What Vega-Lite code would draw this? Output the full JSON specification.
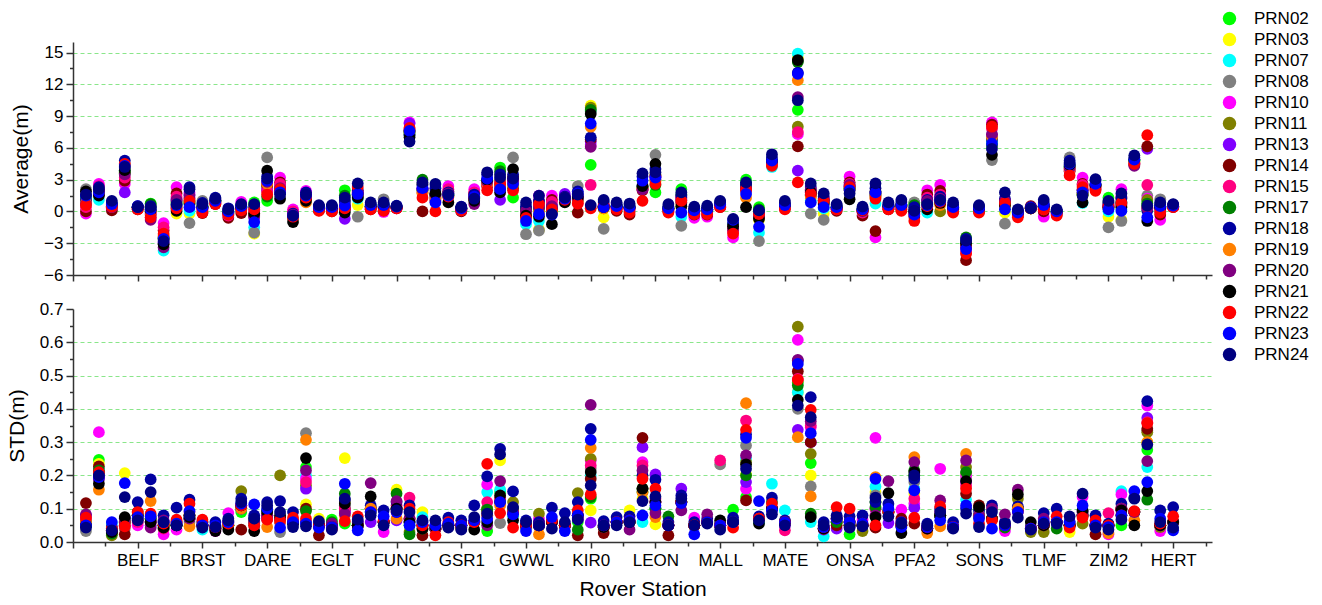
{
"$schema":"https://vega.github.io/schema/vega-lite/v6.json",
"background":"white",
"padding":{"left":6,"top":10,"right":10,"bottom":5},
"config":{
"view":{"stroke":null},
"font":"Liberation Sans",
"axis":{"domainColor":"#333333","domainWidth":1.5,"tickColor":"#333333","tickWidth":1.5,"labelColor":"#000000","labelFontSize":17,"titleFontSize":21,"titleFontWeight":"normal","titleColor":"#000000","labelOverlap":false,"labelFlush":false,"gridColor":"#8ae68a","gridDash":[4,3],"gridWidth":1}
},
"data":{"values":[
{"s":1,"p":"PRN02","a":1.2,"d":0.06},{"s":1,"p":"PRN03","a":1.0,"d":0.05},{"s":1,"p":"PRN07","a":1.3,"d":0.05},{"s":1,"p":"PRN08","a":2.1,"d":0.033},{"s":1,"p":"PRN10","a":-0.2,"d":0.065},{"s":1,"p":"PRN11","a":1.1,"d":0.05},{"s":1,"p":"PRN13","a":0.9,"d":0.08},{"s":1,"p":"PRN14","a":0.0,"d":0.117},{"s":1,"p":"PRN15","a":0.4,"d":0.07},{"s":1,"p":"PRN17","a":1.4,"d":0.06},{"s":1,"p":"PRN18","a":1.0,"d":0.055},{"s":1,"p":"PRN19","a":0.8,"d":0.06},{"s":1,"p":"PRN20","a":0.7,"d":0.083},{"s":1,"p":"PRN21","a":1.9,"d":0.05},{"s":1,"p":"PRN22","a":0.6,"d":0.073},{"s":1,"p":"PRN23","a":1.5,"d":0.05},{"s":1,"p":"PRN24","a":1.6,"d":0.043},
{"s":2,"p":"PRN02","a":2.0,"d":0.247},{"s":2,"p":"PRN03","a":1.8,"d":0.235},{"s":2,"p":"PRN07","a":1.1,"d":0.22},{"s":2,"p":"PRN08","a":1.9,"d":0.2},{"s":2,"p":"PRN10","a":2.6,"d":0.33},{"s":2,"p":"PRN11","a":1.7,"d":0.21},{"s":2,"p":"PRN13","a":2.2,"d":0.19},{"s":2,"p":"PRN14","a":1.6,"d":0.227},{"s":2,"p":"PRN15","a":2.4,"d":0.2},{"s":2,"p":"PRN17","a":1.8,"d":0.215},{"s":2,"p":"PRN18","a":2.3,"d":0.205},{"s":2,"p":"PRN19","a":1.7,"d":0.157},{"s":2,"p":"PRN20","a":2.0,"d":0.19},{"s":2,"p":"PRN21","a":1.5,"d":0.175},{"s":2,"p":"PRN22","a":1.9,"d":0.21},{"s":2,"p":"PRN23","a":1.8,"d":0.195},{"s":2,"p":"PRN24","a":2.1,"d":0.2},
{"s":3,"p":"PRN02","a":0.6,"d":0.03},{"s":3,"p":"PRN03","a":0.5,"d":0.035},{"s":3,"p":"PRN07","a":0.7,"d":0.055},{"s":3,"p":"PRN08","a":0.6,"d":0.04},{"s":3,"p":"PRN10","a":0.3,"d":0.03},{"s":3,"p":"PRN11","a":0.5,"d":0.02},{"s":3,"p":"PRN13","a":0.6,"d":0.04},{"s":3,"p":"PRN14","a":0.1,"d":0.03},{"s":3,"p":"PRN15","a":0.4,"d":0.035},{"s":3,"p":"PRN17","a":0.7,"d":0.025},{"s":3,"p":"PRN18","a":0.8,"d":0.045},{"s":3,"p":"PRN19","a":0.5,"d":0.04},{"s":3,"p":"PRN20","a":0.4,"d":0.035},{"s":3,"p":"PRN21","a":0.6,"d":0.03},{"s":3,"p":"PRN22","a":0.45,"d":0.04},{"s":3,"p":"PRN23","a":0.7,"d":0.06},{"s":3,"p":"PRN24","a":1.0,"d":0.035},
{"s":4,"p":"PRN02","a":3.8,"d":0.06},{"s":4,"p":"PRN03","a":4.0,"d":0.207},{"s":4,"p":"PRN07","a":3.9,"d":0.05},{"s":4,"p":"PRN08","a":4.1,"d":0.04},{"s":4,"p":"PRN10","a":2.6,"d":0.05},{"s":4,"p":"PRN11","a":3.7,"d":0.06},{"s":4,"p":"PRN13","a":1.8,"d":0.07},{"s":4,"p":"PRN14","a":2.9,"d":0.023},{"s":4,"p":"PRN15","a":3.2,"d":0.05},{"s":4,"p":"PRN17","a":3.6,"d":0.06},{"s":4,"p":"PRN18","a":4.8,"d":0.07},{"s":4,"p":"PRN19","a":4.4,"d":0.06},{"s":4,"p":"PRN20","a":3.5,"d":0.06},{"s":4,"p":"PRN21","a":3.9,"d":0.075},{"s":4,"p":"PRN22","a":4.5,"d":0.047},{"s":4,"p":"PRN23","a":4.3,"d":0.177},{"s":4,"p":"PRN24","a":4.2,"d":0.135},
{"s":5,"p":"PRN02","a":0.4,"d":0.07},{"s":5,"p":"PRN03","a":0.3,"d":0.08},{"s":5,"p":"PRN07","a":0.5,"d":0.07},{"s":5,"p":"PRN08","a":0.4,"d":0.06},{"s":5,"p":"PRN10","a":0.3,"d":0.05},{"s":5,"p":"PRN11","a":0.4,"d":0.07},{"s":5,"p":"PRN13","a":0.5,"d":0.08},{"s":5,"p":"PRN14","a":0.2,"d":0.09},{"s":5,"p":"PRN15","a":0.3,"d":0.06},{"s":5,"p":"PRN17","a":0.4,"d":0.08},{"s":5,"p":"PRN18","a":0.5,"d":0.12},{"s":5,"p":"PRN19","a":0.3,"d":0.08},{"s":5,"p":"PRN20","a":0.4,"d":0.07},{"s":5,"p":"PRN21","a":0.4,"d":0.08},{"s":5,"p":"PRN22","a":0.2,"d":0.09},{"s":5,"p":"PRN23","a":0.4,"d":0.075},{"s":5,"p":"PRN24","a":0.4,"d":0.065},
{"s":6,"p":"PRN02","a":0.75,"d":0.07},{"s":6,"p":"PRN03","a":0.5,"d":0.08},{"s":6,"p":"PRN07","a":0.3,"d":0.07},{"s":6,"p":"PRN08","a":0.4,"d":0.06},{"s":6,"p":"PRN10","a":-0.2,"d":0.06},{"s":6,"p":"PRN11","a":0.2,"d":0.07},{"s":6,"p":"PRN13","a":-0.6,"d":0.05},{"s":6,"p":"PRN14","a":-0.3,"d":0.06},{"s":6,"p":"PRN15","a":-0.1,"d":0.07},{"s":6,"p":"PRN17","a":0.7,"d":0.07},{"s":6,"p":"PRN18","a":0.5,"d":0.188},{"s":6,"p":"PRN19","a":0.0,"d":0.123},{"s":6,"p":"PRN20","a":-0.8,"d":0.043},{"s":6,"p":"PRN21","a":0.1,"d":0.06},{"s":6,"p":"PRN22","a":-0.55,"d":0.085},{"s":6,"p":"PRN23","a":0.2,"d":0.077},{"s":6,"p":"PRN24","a":0.4,"d":0.15},
{"s":7,"p":"PRN02","a":-2.5,"d":0.04},{"s":7,"p":"PRN03","a":-2.6,"d":0.05},{"s":7,"p":"PRN07","a":-3.7,"d":0.045},{"s":7,"p":"PRN08","a":-3.0,"d":0.05},{"s":7,"p":"PRN10","a":-1.1,"d":0.023},{"s":7,"p":"PRN11","a":-2.4,"d":0.05},{"s":7,"p":"PRN13","a":-2.9,"d":0.06},{"s":7,"p":"PRN14","a":-1.8,"d":0.05},{"s":7,"p":"PRN15","a":-1.5,"d":0.04},{"s":7,"p":"PRN17","a":-2.6,"d":0.05},{"s":7,"p":"PRN18","a":-2.5,"d":0.08},{"s":7,"p":"PRN19","a":-2.3,"d":0.05},{"s":7,"p":"PRN20","a":-3.4,"d":0.065},{"s":7,"p":"PRN21","a":-3.1,"d":0.043},{"s":7,"p":"PRN22","a":-2.1,"d":0.055},{"s":7,"p":"PRN23","a":-2.6,"d":0.06},{"s":7,"p":"PRN24","a":-2.8,"d":0.06},
{"s":8,"p":"PRN02","a":0.8,"d":0.05},{"s":8,"p":"PRN03","a":-0.2,"d":0.05},{"s":8,"p":"PRN07","a":0.2,"d":0.05},{"s":8,"p":"PRN08","a":0.4,"d":0.06},{"s":8,"p":"PRN10","a":2.3,"d":0.037},{"s":8,"p":"PRN11","a":0.9,"d":0.06},{"s":8,"p":"PRN13","a":1.2,"d":0.06},{"s":8,"p":"PRN14","a":1.7,"d":0.05},{"s":8,"p":"PRN15","a":1.4,"d":0.06},{"s":8,"p":"PRN17","a":0.6,"d":0.05},{"s":8,"p":"PRN18","a":1.0,"d":0.103},{"s":8,"p":"PRN19","a":0.5,"d":0.06},{"s":8,"p":"PRN20","a":1.1,"d":0.055},{"s":8,"p":"PRN21","a":0.05,"d":0.05},{"s":8,"p":"PRN22","a":0.3,"d":0.067},{"s":8,"p":"PRN23","a":0.6,"d":0.055},{"s":8,"p":"PRN24","a":0.7,"d":0.05},
{"s":9,"p":"PRN02","a":0.8,"d":0.07},{"s":9,"p":"PRN03","a":-0.2,"d":0.08},{"s":9,"p":"PRN07","a":0.05,"d":0.07},{"s":9,"p":"PRN08","a":-1.1,"d":0.06},{"s":9,"p":"PRN10","a":1.8,"d":0.07},{"s":9,"p":"PRN11","a":1.0,"d":0.08},{"s":9,"p":"PRN13","a":1.6,"d":0.07},{"s":9,"p":"PRN14","a":1.2,"d":0.08},{"s":9,"p":"PRN15","a":1.3,"d":0.09},{"s":9,"p":"PRN17","a":0.9,"d":0.07},{"s":9,"p":"PRN18","a":2.3,"d":0.127},{"s":9,"p":"PRN19","a":0.9,"d":0.047},{"s":9,"p":"PRN20","a":1.5,"d":0.07},{"s":9,"p":"PRN21","a":0.7,"d":0.075},{"s":9,"p":"PRN22","a":1.0,"d":0.115},{"s":9,"p":"PRN23","a":0.4,"d":0.093},{"s":9,"p":"PRN24","a":2.1,"d":0.08},
{"s":10,"p":"PRN02","a":0.5,"d":0.05},{"s":10,"p":"PRN03","a":0.4,"d":0.05},{"s":10,"p":"PRN07","a":0.3,"d":0.037},{"s":10,"p":"PRN08","a":1.0,"d":0.05},{"s":10,"p":"PRN10","a":0.2,"d":0.05},{"s":10,"p":"PRN11","a":0.5,"d":0.05},{"s":10,"p":"PRN13","a":0.4,"d":0.05},{"s":10,"p":"PRN14","a":-0.15,"d":0.06},{"s":10,"p":"PRN15","a":0.1,"d":0.05},{"s":10,"p":"PRN17","a":0.5,"d":0.05},{"s":10,"p":"PRN18","a":0.8,"d":0.06},{"s":10,"p":"PRN19","a":0.3,"d":0.05},{"s":10,"p":"PRN20","a":0.3,"d":0.05},{"s":10,"p":"PRN21","a":0.4,"d":0.05},{"s":10,"p":"PRN22","a":-0.1,"d":0.067},{"s":10,"p":"PRN23","a":0.4,"d":0.05},{"s":10,"p":"PRN24","a":0.7,"d":0.043},
{"s":11,"p":"PRN02","a":1.0,"d":0.04},{"s":11,"p":"PRN03","a":0.9,"d":0.04},{"s":11,"p":"PRN07","a":1.0,"d":0.045},{"s":11,"p":"PRN08","a":1.1,"d":0.04},{"s":11,"p":"PRN10","a":0.8,"d":0.033},{"s":11,"p":"PRN11","a":1.0,"d":0.04},{"s":11,"p":"PRN13","a":1.1,"d":0.045},{"s":11,"p":"PRN14","a":0.7,"d":0.04},{"s":11,"p":"PRN15","a":0.8,"d":0.04},{"s":11,"p":"PRN17","a":1.0,"d":0.04},{"s":11,"p":"PRN18","a":1.3,"d":0.06},{"s":11,"p":"PRN19","a":0.9,"d":0.04},{"s":11,"p":"PRN20","a":0.9,"d":0.04},{"s":11,"p":"PRN21","a":1.0,"d":0.033},{"s":11,"p":"PRN22","a":0.7,"d":0.045},{"s":11,"p":"PRN23","a":1.0,"d":0.05},{"s":11,"p":"PRN24","a":1.2,"d":0.045},
{"s":12,"p":"PRN02","a":0.0,"d":0.05},{"s":12,"p":"PRN03","a":-0.1,"d":0.05},{"s":12,"p":"PRN07","a":0.0,"d":0.06},{"s":12,"p":"PRN08","a":0.1,"d":0.05},{"s":12,"p":"PRN10","a":-0.3,"d":0.087},{"s":12,"p":"PRN11","a":-0.1,"d":0.05},{"s":12,"p":"PRN13","a":0.0,"d":0.06},{"s":12,"p":"PRN14","a":-0.6,"d":0.05},{"s":12,"p":"PRN15","a":-0.4,"d":0.06},{"s":12,"p":"PRN17","a":0.0,"d":0.05},{"s":12,"p":"PRN18","a":0.3,"d":0.07},{"s":12,"p":"PRN19","a":-0.2,"d":0.05},{"s":12,"p":"PRN20","a":-0.2,"d":0.06},{"s":12,"p":"PRN21","a":-0.1,"d":0.037},{"s":12,"p":"PRN22","a":-0.3,"d":0.055},{"s":12,"p":"PRN23","a":0.0,"d":0.06},{"s":12,"p":"PRN24","a":0.2,"d":0.065},
{"s":13,"p":"PRN02","a":0.5,"d":0.09},{"s":13,"p":"PRN03","a":0.4,"d":0.1},{"s":13,"p":"PRN07","a":0.5,"d":0.1},{"s":13,"p":"PRN08","a":0.6,"d":0.1},{"s":13,"p":"PRN10","a":0.9,"d":0.1},{"s":13,"p":"PRN11","a":0.4,"d":0.153},{"s":13,"p":"PRN13","a":0.5,"d":0.1},{"s":13,"p":"PRN14","a":-0.15,"d":0.037},{"s":13,"p":"PRN15","a":0.2,"d":0.11},{"s":13,"p":"PRN17","a":0.4,"d":0.1},{"s":13,"p":"PRN18","a":0.6,"d":0.13},{"s":13,"p":"PRN19","a":0.3,"d":0.1},{"s":13,"p":"PRN20","a":0.3,"d":0.11},{"s":13,"p":"PRN21","a":0.4,"d":0.11},{"s":13,"p":"PRN22","a":0.1,"d":0.11},{"s":13,"p":"PRN23","a":0.5,"d":0.115},{"s":13,"p":"PRN24","a":0.7,"d":0.12},
{"s":14,"p":"PRN02","a":0.85,"d":0.06},{"s":14,"p":"PRN03","a":-2.1,"d":0.06},{"s":14,"p":"PRN07","a":-1.5,"d":0.07},{"s":14,"p":"PRN08","a":-2.0,"d":0.06},{"s":14,"p":"PRN10","a":0.0,"d":0.06},{"s":14,"p":"PRN11","a":-0.5,"d":0.06},{"s":14,"p":"PRN13","a":-0.6,"d":0.07},{"s":14,"p":"PRN14","a":-0.3,"d":0.05},{"s":14,"p":"PRN15","a":0.1,"d":0.06},{"s":14,"p":"PRN17","a":0.6,"d":0.07},{"s":14,"p":"PRN18","a":0.4,"d":0.08},{"s":14,"p":"PRN19","a":-0.2,"d":0.06},{"s":14,"p":"PRN20","a":-0.4,"d":0.06},{"s":14,"p":"PRN21","a":-0.2,"d":0.033},{"s":14,"p":"PRN22","a":0.2,"d":0.05},{"s":14,"p":"PRN23","a":-1.0,"d":0.113},{"s":14,"p":"PRN24","a":0.7,"d":0.07},
{"s":15,"p":"PRN02","a":1.0,"d":0.07},{"s":15,"p":"PRN03","a":1.8,"d":0.08},{"s":15,"p":"PRN07","a":2.2,"d":0.08},{"s":15,"p":"PRN08","a":5.1,"d":0.07},{"s":15,"p":"PRN10","a":2.2,"d":0.07},{"s":15,"p":"PRN11","a":2.4,"d":0.08},{"s":15,"p":"PRN13","a":2.0,"d":0.07},{"s":15,"p":"PRN14","a":2.5,"d":0.08},{"s":15,"p":"PRN15","a":1.9,"d":0.08},{"s":15,"p":"PRN17","a":1.4,"d":0.095},{"s":15,"p":"PRN18","a":3.3,"d":0.12},{"s":15,"p":"PRN19","a":2.6,"d":0.045},{"s":15,"p":"PRN20","a":2.8,"d":0.08},{"s":15,"p":"PRN21","a":3.85,"d":0.09},{"s":15,"p":"PRN22","a":1.6,"d":0.067},{"s":15,"p":"PRN23","a":2.9,"d":0.1},{"s":15,"p":"PRN24","a":3.1,"d":0.11},
{"s":16,"p":"PRN02","a":2.0,"d":0.07},{"s":16,"p":"PRN03","a":2.2,"d":0.07},{"s":16,"p":"PRN07","a":2.0,"d":0.06},{"s":16,"p":"PRN08","a":2.3,"d":0.03},{"s":16,"p":"PRN10","a":3.2,"d":0.07},{"s":16,"p":"PRN11","a":2.1,"d":0.2},{"s":16,"p":"PRN13","a":2.4,"d":0.06},{"s":16,"p":"PRN14","a":2.75,"d":0.07},{"s":16,"p":"PRN15","a":2.6,"d":0.06},{"s":16,"p":"PRN17","a":1.9,"d":0.07},{"s":16,"p":"PRN18","a":2.0,"d":0.123},{"s":16,"p":"PRN19","a":1.8,"d":0.06},{"s":16,"p":"PRN20","a":2.2,"d":0.07},{"s":16,"p":"PRN21","a":1.2,"d":0.08},{"s":16,"p":"PRN22","a":2.1,"d":0.065},{"s":16,"p":"PRN23","a":1.8,"d":0.043},{"s":16,"p":"PRN24","a":1.6,"d":0.09},
{"s":17,"p":"PRN02","a":-0.3,"d":0.06},{"s":17,"p":"PRN03","a":-0.4,"d":0.06},{"s":17,"p":"PRN07","a":-0.3,"d":0.06},{"s":17,"p":"PRN08","a":-0.2,"d":0.06},{"s":17,"p":"PRN10","a":0.2,"d":0.06},{"s":17,"p":"PRN11","a":-0.4,"d":0.06},{"s":17,"p":"PRN13","a":-0.3,"d":0.06},{"s":17,"p":"PRN14","a":-0.6,"d":0.06},{"s":17,"p":"PRN15","a":0.0,"d":0.065},{"s":17,"p":"PRN17","a":-0.5,"d":0.06},{"s":17,"p":"PRN18","a":-0.2,"d":0.09},{"s":17,"p":"PRN19","a":-0.6,"d":0.06},{"s":17,"p":"PRN20","a":-0.3,"d":0.06},{"s":17,"p":"PRN21","a":-1.0,"d":0.055},{"s":17,"p":"PRN22","a":-0.5,"d":0.073},{"s":17,"p":"PRN23","a":-0.4,"d":0.06},{"s":17,"p":"PRN24","a":-0.4,"d":0.045},
{"s":18,"p":"PRN02","a":1.4,"d":0.225},{"s":18,"p":"PRN03","a":1.3,"d":0.113},{"s":18,"p":"PRN07","a":1.5,"d":0.2},{"s":18,"p":"PRN08","a":1.5,"d":0.327},{"s":18,"p":"PRN10","a":1.95,"d":0.19},{"s":18,"p":"PRN11","a":1.3,"d":0.17},{"s":18,"p":"PRN13","a":1.6,"d":0.16},{"s":18,"p":"PRN14","a":1.2,"d":0.1},{"s":18,"p":"PRN15","a":1.7,"d":0.18},{"s":18,"p":"PRN17","a":1.3,"d":0.093},{"s":18,"p":"PRN18","a":1.8,"d":0.06},{"s":18,"p":"PRN19","a":0.85,"d":0.307},{"s":18,"p":"PRN20","a":1.4,"d":0.215},{"s":18,"p":"PRN21","a":1.0,"d":0.252},{"s":18,"p":"PRN22","a":1.3,"d":0.07},{"s":18,"p":"PRN23","a":1.5,"d":0.055},{"s":18,"p":"PRN24","a":1.6,"d":0.047},
{"s":19,"p":"PRN02","a":0.4,"d":0.05},{"s":19,"p":"PRN03","a":0.3,"d":0.07},{"s":19,"p":"PRN07","a":0.4,"d":0.05},{"s":19,"p":"PRN08","a":0.5,"d":0.05},{"s":19,"p":"PRN10","a":0.2,"d":0.05},{"s":19,"p":"PRN11","a":0.4,"d":0.05},{"s":19,"p":"PRN13","a":0.3,"d":0.05},{"s":19,"p":"PRN14","a":0.1,"d":0.02},{"s":19,"p":"PRN15","a":0.2,"d":0.05},{"s":19,"p":"PRN17","a":0.4,"d":0.05},{"s":19,"p":"PRN18","a":0.5,"d":0.055},{"s":19,"p":"PRN19","a":0.3,"d":0.05},{"s":19,"p":"PRN20","a":0.3,"d":0.05},{"s":19,"p":"PRN21","a":0.4,"d":0.05},{"s":19,"p":"PRN22","a":0.05,"d":0.05},{"s":19,"p":"PRN23","a":0.4,"d":0.043},{"s":19,"p":"PRN24","a":0.6,"d":0.063},
{"s":20,"p":"PRN02","a":0.3,"d":0.067},{"s":20,"p":"PRN03","a":0.3,"d":0.05},{"s":20,"p":"PRN07","a":0.4,"d":0.05},{"s":20,"p":"PRN08","a":0.4,"d":0.05},{"s":20,"p":"PRN10","a":0.1,"d":0.04},{"s":20,"p":"PRN11","a":0.3,"d":0.05},{"s":20,"p":"PRN13","a":0.3,"d":0.05},{"s":20,"p":"PRN14","a":0.0,"d":0.04},{"s":20,"p":"PRN15","a":0.2,"d":0.045},{"s":20,"p":"PRN17","a":0.4,"d":0.06},{"s":20,"p":"PRN18","a":0.5,"d":0.05},{"s":20,"p":"PRN19","a":0.3,"d":0.04},{"s":20,"p":"PRN20","a":0.2,"d":0.055},{"s":20,"p":"PRN21","a":0.3,"d":0.045},{"s":20,"p":"PRN22","a":0.0,"d":0.045},{"s":20,"p":"PRN23","a":0.4,"d":0.045},{"s":20,"p":"PRN24","a":0.6,"d":0.037},
{"s":21,"p":"PRN02","a":2.0,"d":0.055},{"s":21,"p":"PRN03","a":1.0,"d":0.252},{"s":21,"p":"PRN07","a":0.8,"d":0.1},{"s":21,"p":"PRN08","a":0.9,"d":0.11},{"s":21,"p":"PRN10","a":0.3,"d":0.09},{"s":21,"p":"PRN11","a":0.6,"d":0.12},{"s":21,"p":"PRN13","a":-0.7,"d":0.09},{"s":21,"p":"PRN14","a":0.2,"d":0.1},{"s":21,"p":"PRN15","a":0.6,"d":0.1},{"s":21,"p":"PRN17","a":1.5,"d":0.145},{"s":21,"p":"PRN18","a":1.0,"d":0.127},{"s":21,"p":"PRN19","a":0.5,"d":0.08},{"s":21,"p":"PRN20","a":0.4,"d":0.085},{"s":21,"p":"PRN21","a":-0.1,"d":0.115},{"s":21,"p":"PRN22","a":0.3,"d":0.063},{"s":21,"p":"PRN23","a":0.55,"d":0.175},{"s":21,"p":"PRN24","a":1.3,"d":0.13},
{"s":22,"p":"PRN02","a":1.5,"d":0.05},{"s":22,"p":"PRN03","a":0.6,"d":0.05},{"s":22,"p":"PRN07","a":1.2,"d":0.05},{"s":22,"p":"PRN08","a":-0.5,"d":0.05},{"s":22,"p":"PRN10","a":1.6,"d":0.05},{"s":22,"p":"PRN11","a":1.4,"d":0.05},{"s":22,"p":"PRN13","a":1.6,"d":0.05},{"s":22,"p":"PRN14","a":1.8,"d":0.05},{"s":22,"p":"PRN15","a":1.9,"d":0.06},{"s":22,"p":"PRN17","a":1.6,"d":0.05},{"s":22,"p":"PRN18","a":2.0,"d":0.06},{"s":22,"p":"PRN19","a":1.5,"d":0.05},{"s":22,"p":"PRN20","a":1.7,"d":0.05},{"s":22,"p":"PRN21","a":1.3,"d":0.05},{"s":22,"p":"PRN22","a":2.3,"d":0.077},{"s":22,"p":"PRN23","a":1.65,"d":0.035},{"s":22,"p":"PRN24","a":2.65,"d":0.067},
{"s":23,"p":"PRN02","a":0.5,"d":0.09},{"s":23,"p":"PRN03","a":0.4,"d":0.1},{"s":23,"p":"PRN07","a":0.5,"d":0.09},{"s":23,"p":"PRN08","a":0.6,"d":0.1},{"s":23,"p":"PRN10","a":0.3,"d":0.1},{"s":23,"p":"PRN11","a":0.5,"d":0.1},{"s":23,"p":"PRN13","a":0.5,"d":0.06},{"s":23,"p":"PRN14","a":0.2,"d":0.1},{"s":23,"p":"PRN15","a":0.3,"d":0.1},{"s":23,"p":"PRN17","a":0.5,"d":0.1},{"s":23,"p":"PRN18","a":0.7,"d":0.11},{"s":23,"p":"PRN19","a":0.4,"d":0.1},{"s":23,"p":"PRN20","a":0.4,"d":0.177},{"s":23,"p":"PRN21","a":0.5,"d":0.137},{"s":23,"p":"PRN22","a":0.2,"d":0.09},{"s":23,"p":"PRN23","a":0.6,"d":0.09},{"s":23,"p":"PRN24","a":0.85,"d":0.08},
{"s":24,"p":"PRN02","a":0.6,"d":0.06},{"s":24,"p":"PRN03","a":0.5,"d":0.06},{"s":24,"p":"PRN07","a":0.6,"d":0.06},{"s":24,"p":"PRN08","a":1.15,"d":0.06},{"s":24,"p":"PRN10","a":-0.05,"d":0.03},{"s":24,"p":"PRN11","a":0.5,"d":0.06},{"s":24,"p":"PRN13","a":0.5,"d":0.06},{"s":24,"p":"PRN14","a":0.1,"d":0.06},{"s":24,"p":"PRN15","a":0.3,"d":0.06},{"s":24,"p":"PRN17","a":0.6,"d":0.06},{"s":24,"p":"PRN18","a":0.7,"d":0.095},{"s":24,"p":"PRN19","a":0.4,"d":0.06},{"s":24,"p":"PRN20","a":0.4,"d":0.06},{"s":24,"p":"PRN21","a":0.5,"d":0.06},{"s":24,"p":"PRN22","a":0.05,"d":0.065},{"s":24,"p":"PRN23","a":0.6,"d":0.077},{"s":24,"p":"PRN24","a":0.85,"d":0.05},
{"s":25,"p":"PRN02","a":0.4,"d":0.1},{"s":25,"p":"PRN03","a":0.4,"d":0.157},{"s":25,"p":"PRN07","a":0.45,"d":0.1},{"s":25,"p":"PRN08","a":0.5,"d":0.1},{"s":25,"p":"PRN10","a":0.3,"d":0.1},{"s":25,"p":"PRN11","a":0.4,"d":0.1},{"s":25,"p":"PRN13","a":0.45,"d":0.065},{"s":25,"p":"PRN14","a":0.3,"d":0.1},{"s":25,"p":"PRN15","a":0.35,"d":0.11},{"s":25,"p":"PRN17","a":0.4,"d":0.145},{"s":25,"p":"PRN18","a":0.55,"d":0.12},{"s":25,"p":"PRN19","a":0.4,"d":0.07},{"s":25,"p":"PRN20","a":0.4,"d":0.123},{"s":25,"p":"PRN21","a":0.4,"d":0.1},{"s":25,"p":"PRN22","a":0.3,"d":0.09},{"s":25,"p":"PRN23","a":0.45,"d":0.09},{"s":25,"p":"PRN24","a":0.5,"d":0.095},
{"s":26,"p":"PRN02","a":7.6,"d":0.05},{"s":26,"p":"PRN03","a":7.5,"d":0.06},{"s":26,"p":"PRN07","a":7.5,"d":0.06},{"s":26,"p":"PRN08","a":7.4,"d":0.06},{"s":26,"p":"PRN10","a":8.4,"d":0.07},{"s":26,"p":"PRN11","a":7.5,"d":0.03},{"s":26,"p":"PRN13","a":8.3,"d":0.06},{"s":26,"p":"PRN14","a":7.6,"d":0.07},{"s":26,"p":"PRN15","a":7.8,"d":0.133},{"s":26,"p":"PRN17","a":7.3,"d":0.023},{"s":26,"p":"PRN18","a":7.2,"d":0.11},{"s":26,"p":"PRN19","a":7.6,"d":0.07},{"s":26,"p":"PRN20","a":7.7,"d":0.07},{"s":26,"p":"PRN21","a":7.0,"d":0.06},{"s":26,"p":"PRN22","a":7.9,"d":0.1},{"s":26,"p":"PRN23","a":7.6,"d":0.05},{"s":26,"p":"PRN24","a":6.6,"d":0.09},
{"s":27,"p":"PRN02","a":2.0,"d":0.05},{"s":27,"p":"PRN03","a":1.8,"d":0.09},{"s":27,"p":"PRN07","a":2.0,"d":0.075},{"s":27,"p":"PRN08","a":2.2,"d":0.05},{"s":27,"p":"PRN10","a":2.1,"d":0.05},{"s":27,"p":"PRN11","a":2.0,"d":0.05},{"s":27,"p":"PRN13","a":2.2,"d":0.05},{"s":27,"p":"PRN14","a":0.0,"d":0.02},{"s":27,"p":"PRN15","a":1.8,"d":0.05},{"s":27,"p":"PRN17","a":3.0,"d":0.04},{"s":27,"p":"PRN18","a":2.5,"d":0.06},{"s":27,"p":"PRN19","a":1.7,"d":0.05},{"s":27,"p":"PRN20","a":2.1,"d":0.05},{"s":27,"p":"PRN21","a":2.6,"d":0.04},{"s":27,"p":"PRN22","a":1.3,"d":0.05},{"s":27,"p":"PRN23","a":2.2,"d":0.06},{"s":27,"p":"PRN24","a":2.75,"d":0.065},
{"s":28,"p":"PRN02","a":1.4,"d":0.04},{"s":28,"p":"PRN03","a":1.2,"d":0.04},{"s":28,"p":"PRN07","a":1.3,"d":0.04},{"s":28,"p":"PRN08","a":1.95,"d":0.04},{"s":28,"p":"PRN10","a":1.5,"d":0.04},{"s":28,"p":"PRN11","a":1.6,"d":0.04},{"s":28,"p":"PRN13","a":1.5,"d":0.04},{"s":28,"p":"PRN14","a":1.0,"d":0.04},{"s":28,"p":"PRN15","a":1.2,"d":0.04},{"s":28,"p":"PRN17","a":1.6,"d":0.04},{"s":28,"p":"PRN18","a":2.2,"d":0.05},{"s":28,"p":"PRN19","a":1.3,"d":0.04},{"s":28,"p":"PRN20","a":1.6,"d":0.04},{"s":28,"p":"PRN21","a":1.7,"d":0.045},{"s":28,"p":"PRN22","a":0.0,"d":0.02},{"s":28,"p":"PRN23","a":0.85,"d":0.05},{"s":28,"p":"PRN24","a":2.6,"d":0.065},
{"s":29,"p":"PRN02","a":1.6,"d":0.05},{"s":29,"p":"PRN03","a":1.5,"d":0.05},{"s":29,"p":"PRN07","a":1.6,"d":0.05},{"s":29,"p":"PRN08","a":1.7,"d":0.05},{"s":29,"p":"PRN10","a":2.4,"d":0.055},{"s":29,"p":"PRN11","a":1.5,"d":0.05},{"s":29,"p":"PRN13","a":1.7,"d":0.05},{"s":29,"p":"PRN14","a":1.9,"d":0.05},{"s":29,"p":"PRN15","a":2.1,"d":0.05},{"s":29,"p":"PRN17","a":1.5,"d":0.05},{"s":29,"p":"PRN18","a":1.8,"d":0.073},{"s":29,"p":"PRN19","a":1.4,"d":0.05},{"s":29,"p":"PRN20","a":1.7,"d":0.05},{"s":29,"p":"PRN21","a":0.85,"d":0.05},{"s":29,"p":"PRN22","a":1.4,"d":0.06},{"s":29,"p":"PRN23","a":1.5,"d":0.055},{"s":29,"p":"PRN24","a":1.6,"d":0.043},
{"s":30,"p":"PRN02","a":0.3,"d":0.045},{"s":30,"p":"PRN03","a":0.2,"d":0.045},{"s":30,"p":"PRN07","a":0.3,"d":0.045},{"s":30,"p":"PRN08","a":0.3,"d":0.05},{"s":30,"p":"PRN10","a":0.2,"d":0.045},{"s":30,"p":"PRN11","a":0.2,"d":0.05},{"s":30,"p":"PRN13","a":0.3,"d":0.05},{"s":30,"p":"PRN14","a":0.0,"d":0.04},{"s":30,"p":"PRN15","a":0.1,"d":0.05},{"s":30,"p":"PRN17","a":0.3,"d":0.045},{"s":30,"p":"PRN18","a":0.45,"d":0.065},{"s":30,"p":"PRN19","a":0.2,"d":0.045},{"s":30,"p":"PRN20","a":0.2,"d":0.05},{"s":30,"p":"PRN21","a":0.3,"d":0.05},{"s":30,"p":"PRN22","a":0.1,"d":0.05},{"s":30,"p":"PRN23","a":0.3,"d":0.05},{"s":30,"p":"PRN24","a":0.4,"d":0.037},
{"s":31,"p":"PRN02","a":1.3,"d":0.06},{"s":31,"p":"PRN03","a":1.2,"d":0.06},{"s":31,"p":"PRN07","a":1.3,"d":0.06},{"s":31,"p":"PRN08","a":1.4,"d":0.06},{"s":31,"p":"PRN10","a":2.1,"d":0.06},{"s":31,"p":"PRN11","a":1.3,"d":0.06},{"s":31,"p":"PRN13","a":1.4,"d":0.06},{"s":31,"p":"PRN14","a":1.7,"d":0.06},{"s":31,"p":"PRN15","a":1.8,"d":0.06},{"s":31,"p":"PRN17","a":1.2,"d":0.06},{"s":31,"p":"PRN18","a":1.6,"d":0.11},{"s":31,"p":"PRN19","a":1.1,"d":0.06},{"s":31,"p":"PRN20","a":0.7,"d":0.06},{"s":31,"p":"PRN21","a":1.0,"d":0.037},{"s":31,"p":"PRN22","a":1.3,"d":0.06},{"s":31,"p":"PRN23","a":1.4,"d":0.065},{"s":31,"p":"PRN24","a":1.2,"d":0.075},
{"s":32,"p":"PRN02","a":2.8,"d":0.033},{"s":32,"p":"PRN03","a":2.7,"d":0.1},{"s":32,"p":"PRN07","a":2.9,"d":0.15},{"s":32,"p":"PRN08","a":3.0,"d":0.1},{"s":32,"p":"PRN10","a":2.5,"d":0.173},{"s":32,"p":"PRN11","a":2.8,"d":0.1},{"s":32,"p":"PRN13","a":2.9,"d":0.08},{"s":32,"p":"PRN14","a":2.4,"d":0.09},{"s":32,"p":"PRN15","a":2.5,"d":0.12},{"s":32,"p":"PRN17","a":2.8,"d":0.097},{"s":32,"p":"PRN18","a":3.5,"d":0.197},{"s":32,"p":"PRN19","a":2.6,"d":0.08},{"s":32,"p":"PRN20","a":2.8,"d":0.05},{"s":32,"p":"PRN21","a":3.0,"d":0.06},{"s":32,"p":"PRN22","a":2.0,"d":0.235},{"s":32,"p":"PRN23","a":3.1,"d":0.07},{"s":32,"p":"PRN24","a":3.7,"d":0.085},
{"s":33,"p":"PRN02","a":4.15,"d":0.15},{"s":33,"p":"PRN03","a":3.5,"d":0.245},{"s":33,"p":"PRN07","a":2.6,"d":0.157},{"s":33,"p":"PRN08","a":3.0,"d":0.057},{"s":33,"p":"PRN10","a":2.8,"d":0.12},{"s":33,"p":"PRN11","a":2.9,"d":0.13},{"s":33,"p":"PRN13","a":1.1,"d":0.123},{"s":33,"p":"PRN14","a":2.5,"d":0.12},{"s":33,"p":"PRN15","a":2.7,"d":0.13},{"s":33,"p":"PRN17","a":3.8,"d":0.12},{"s":33,"p":"PRN18","a":3.5,"d":0.28},{"s":33,"p":"PRN19","a":2.4,"d":0.11},{"s":33,"p":"PRN20","a":2.2,"d":0.183},{"s":33,"p":"PRN21","a":1.8,"d":0.14},{"s":33,"p":"PRN22","a":2.6,"d":0.087},{"s":33,"p":"PRN23","a":2.1,"d":0.12},{"s":33,"p":"PRN24","a":3.2,"d":0.263},
{"s":34,"p":"PRN02","a":1.3,"d":0.08},{"s":34,"p":"PRN03","a":2.4,"d":0.09},{"s":34,"p":"PRN07","a":2.8,"d":0.08},{"s":34,"p":"PRN08","a":5.1,"d":0.09},{"s":34,"p":"PRN10","a":3.0,"d":0.09},{"s":34,"p":"PRN11","a":3.3,"d":0.12},{"s":34,"p":"PRN13","a":2.9,"d":0.09},{"s":34,"p":"PRN14","a":3.2,"d":0.09},{"s":34,"p":"PRN15","a":2.8,"d":0.09},{"s":34,"p":"PRN17","a":2.2,"d":0.1},{"s":34,"p":"PRN18","a":3.5,"d":0.152},{"s":34,"p":"PRN19","a":2.5,"d":0.09},{"s":34,"p":"PRN20","a":3.0,"d":0.09},{"s":34,"p":"PRN21","a":4.0,"d":0.065},{"s":34,"p":"PRN22","a":2.0,"d":0.043},{"s":34,"p":"PRN23","a":2.6,"d":0.083},{"s":34,"p":"PRN24","a":3.1,"d":0.105},
{"s":35,"p":"PRN02","a":0.3,"d":0.045},{"s":35,"p":"PRN03","a":-0.5,"d":0.045},{"s":35,"p":"PRN07","a":-1.2,"d":0.045},{"s":35,"p":"PRN08","a":-2.15,"d":0.05},{"s":35,"p":"PRN10","a":0.0,"d":0.05},{"s":35,"p":"PRN11","a":-0.2,"d":0.05},{"s":35,"p":"PRN13","a":-0.3,"d":0.05},{"s":35,"p":"PRN14","a":0.2,"d":0.05},{"s":35,"p":"PRN15","a":0.1,"d":0.05},{"s":35,"p":"PRN17","a":0.2,"d":0.045},{"s":35,"p":"PRN18","a":0.5,"d":0.065},{"s":35,"p":"PRN19","a":-0.3,"d":0.045},{"s":35,"p":"PRN20","a":0.05,"d":0.05},{"s":35,"p":"PRN21","a":-0.4,"d":0.05},{"s":35,"p":"PRN22","a":-0.6,"d":0.05},{"s":35,"p":"PRN23","a":-0.9,"d":0.033},{"s":35,"p":"PRN24","a":0.85,"d":0.06},
{"s":36,"p":"PRN02","a":0.5,"d":0.05},{"s":36,"p":"PRN03","a":-1.7,"d":0.05},{"s":36,"p":"PRN07","a":-0.9,"d":0.05},{"s":36,"p":"PRN08","a":-1.8,"d":0.05},{"s":36,"p":"PRN10","a":1.5,"d":0.07},{"s":36,"p":"PRN11","a":0.3,"d":0.085},{"s":36,"p":"PRN13","a":0.6,"d":0.05},{"s":36,"p":"PRN14","a":0.9,"d":0.05},{"s":36,"p":"PRN15","a":1.0,"d":0.06},{"s":36,"p":"PRN17","a":0.2,"d":0.05},{"s":36,"p":"PRN18","a":1.0,"d":0.06},{"s":36,"p":"PRN19","a":0.0,"d":0.023},{"s":36,"p":"PRN20","a":0.4,"d":0.05},{"s":36,"p":"PRN21","a":-0.5,"d":0.05},{"s":36,"p":"PRN22","a":0.7,"d":0.05},{"s":36,"p":"PRN23","a":-0.25,"d":0.05},{"s":36,"p":"PRN24","a":1.5,"d":0.05},
{"s":37,"p":"PRN02","a":0.5,"d":0.06},{"s":37,"p":"PRN03","a":0.3,"d":0.06},{"s":37,"p":"PRN07","a":0.2,"d":0.06},{"s":37,"p":"PRN08","a":0.4,"d":0.06},{"s":37,"p":"PRN10","a":1.5,"d":0.06},{"s":37,"p":"PRN11","a":0.4,"d":0.06},{"s":37,"p":"PRN13","a":0.6,"d":0.06},{"s":37,"p":"PRN14","a":1.1,"d":0.06},{"s":37,"p":"PRN15","a":0.9,"d":0.06},{"s":37,"p":"PRN17","a":0.0,"d":0.06},{"s":37,"p":"PRN18","a":0.3,"d":0.103},{"s":37,"p":"PRN19","a":0.0,"d":0.06},{"s":37,"p":"PRN20","a":0.5,"d":0.06},{"s":37,"p":"PRN21","a":-1.2,"d":0.06},{"s":37,"p":"PRN22","a":0.2,"d":0.065},{"s":37,"p":"PRN23","a":-0.3,"d":0.075},{"s":37,"p":"PRN24","a":-0.25,"d":0.04},
{"s":38,"p":"PRN02","a":1.2,"d":0.05},{"s":38,"p":"PRN03","a":1.1,"d":0.05},{"s":38,"p":"PRN07","a":1.2,"d":0.05},{"s":38,"p":"PRN08","a":1.3,"d":0.05},{"s":38,"p":"PRN10","a":1.3,"d":0.05},{"s":38,"p":"PRN11","a":1.2,"d":0.05},{"s":38,"p":"PRN13","a":1.65,"d":0.05},{"s":38,"p":"PRN14","a":1.2,"d":0.05},{"s":38,"p":"PRN15","a":1.3,"d":0.05},{"s":38,"p":"PRN17","a":1.1,"d":0.05},{"s":38,"p":"PRN18","a":1.4,"d":0.087},{"s":38,"p":"PRN19","a":1.1,"d":0.05},{"s":38,"p":"PRN20","a":1.3,"d":0.05},{"s":38,"p":"PRN21","a":0.85,"d":0.05},{"s":38,"p":"PRN22","a":1.1,"d":0.05},{"s":38,"p":"PRN23","a":1.2,"d":0.033},{"s":38,"p":"PRN24","a":1.3,"d":0.06},
{"s":39,"p":"PRN02","a":1.2,"d":0.06},{"s":39,"p":"PRN03","a":1.1,"d":0.07},{"s":39,"p":"PRN07","a":1.3,"d":0.07},{"s":39,"p":"PRN08","a":2.4,"d":0.07},{"s":39,"p":"PRN10","a":1.4,"d":0.07},{"s":39,"p":"PRN11","a":1.2,"d":0.147},{"s":39,"p":"PRN13","a":1.3,"d":0.07},{"s":39,"p":"PRN14","a":-0.1,"d":0.02},{"s":39,"p":"PRN15","a":0.8,"d":0.08},{"s":39,"p":"PRN17","a":1.1,"d":0.037},{"s":39,"p":"PRN18","a":1.9,"d":0.12},{"s":39,"p":"PRN19","a":1.0,"d":0.08},{"s":39,"p":"PRN20","a":1.2,"d":0.08},{"s":39,"p":"PRN21","a":1.4,"d":0.08},{"s":39,"p":"PRN22","a":0.75,"d":0.095},{"s":39,"p":"PRN23","a":1.7,"d":0.08},{"s":39,"p":"PRN24","a":1.6,"d":0.067},
{"s":40,"p":"PRN02","a":4.4,"d":0.13},{"s":40,"p":"PRN03","a":10.0,"d":0.095},{"s":40,"p":"PRN07","a":9.5,"d":0.2},{"s":40,"p":"PRN08","a":9.4,"d":0.22},{"s":40,"p":"PRN10","a":6.3,"d":0.245},{"s":40,"p":"PRN11","a":9.8,"d":0.25},{"s":40,"p":"PRN13","a":6.6,"d":0.058},{"s":40,"p":"PRN14","a":6.8,"d":0.19},{"s":40,"p":"PRN15","a":2.5,"d":0.23},{"s":40,"p":"PRN17","a":9.6,"d":0.135},{"s":40,"p":"PRN18","a":7.0,"d":0.34},{"s":40,"p":"PRN19","a":8.0,"d":0.283},{"s":40,"p":"PRN20","a":6.1,"d":0.412},{"s":40,"p":"PRN21","a":9.2,"d":0.21},{"s":40,"p":"PRN22","a":0.3,"d":0.143},{"s":40,"p":"PRN23","a":8.3,"d":0.307},{"s":40,"p":"PRN24","a":0.6,"d":0.17},
{"s":41,"p":"PRN02","a":0.5,"d":0.045},{"s":41,"p":"PRN03","a":-0.55,"d":0.045},{"s":41,"p":"PRN07","a":0.35,"d":0.045},{"s":41,"p":"PRN08","a":-1.65,"d":0.045},{"s":41,"p":"PRN10","a":0.6,"d":0.045},{"s":41,"p":"PRN11","a":0.3,"d":0.045},{"s":41,"p":"PRN13","a":0.5,"d":0.045},{"s":41,"p":"PRN14","a":0.4,"d":0.027},{"s":41,"p":"PRN15","a":0.6,"d":0.045},{"s":41,"p":"PRN17","a":0.5,"d":0.045},{"s":41,"p":"PRN18","a":0.9,"d":0.063},{"s":41,"p":"PRN19","a":0.3,"d":0.045},{"s":41,"p":"PRN20","a":0.5,"d":0.045},{"s":41,"p":"PRN21","a":0.4,"d":0.045},{"s":41,"p":"PRN22","a":0.5,"d":0.05},{"s":41,"p":"PRN23","a":0.4,"d":0.05},{"s":41,"p":"PRN24","a":1.1,"d":0.05},
{"s":42,"p":"PRN02","a":0.5,"d":0.06},{"s":42,"p":"PRN03","a":0.4,"d":0.06},{"s":42,"p":"PRN07","a":0.5,"d":0.06},{"s":42,"p":"PRN08","a":0.5,"d":0.06},{"s":42,"p":"PRN10","a":0.3,"d":0.06},{"s":42,"p":"PRN11","a":0.4,"d":0.06},{"s":42,"p":"PRN13","a":0.5,"d":0.06},{"s":42,"p":"PRN14","a":0.05,"d":0.06},{"s":42,"p":"PRN15","a":0.3,"d":0.06},{"s":42,"p":"PRN17","a":0.5,"d":0.06},{"s":42,"p":"PRN18","a":0.7,"d":0.075},{"s":42,"p":"PRN19","a":0.4,"d":0.06},{"s":42,"p":"PRN20","a":0.4,"d":0.06},{"s":42,"p":"PRN21","a":0.5,"d":0.06},{"s":42,"p":"PRN22","a":0.2,"d":0.06},{"s":42,"p":"PRN23","a":0.5,"d":0.06},{"s":42,"p":"PRN24","a":0.85,"d":0.05},
{"s":43,"p":"PRN02","a":0.4,"d":0.06},{"s":43,"p":"PRN03","a":0.3,"d":0.095},{"s":43,"p":"PRN07","a":0.4,"d":0.06},{"s":43,"p":"PRN08","a":0.4,"d":0.06},{"s":43,"p":"PRN10","a":0.2,"d":0.06},{"s":43,"p":"PRN11","a":0.3,"d":0.06},{"s":43,"p":"PRN13","a":0.4,"d":0.06},{"s":43,"p":"PRN14","a":-0.3,"d":0.06},{"s":43,"p":"PRN15","a":0.1,"d":0.06},{"s":43,"p":"PRN17","a":0.4,"d":0.06},{"s":43,"p":"PRN18","a":0.6,"d":0.077},{"s":43,"p":"PRN19","a":0.3,"d":0.06},{"s":43,"p":"PRN20","a":0.3,"d":0.037},{"s":43,"p":"PRN21","a":0.4,"d":0.06},{"s":43,"p":"PRN22","a":-0.1,"d":0.065},{"s":43,"p":"PRN23","a":0.4,"d":0.065},{"s":43,"p":"PRN24","a":0.75,"d":0.06},
{"s":44,"p":"PRN02","a":2.3,"d":0.15},{"s":44,"p":"PRN03","a":2.2,"d":0.13},{"s":44,"p":"PRN07","a":2.4,"d":0.06},{"s":44,"p":"PRN08","a":2.5,"d":0.15},{"s":44,"p":"PRN10","a":2.2,"d":0.24},{"s":44,"p":"PRN11","a":2.3,"d":0.16},{"s":44,"p":"PRN13","a":2.4,"d":0.285},{"s":44,"p":"PRN14","a":2.0,"d":0.313},{"s":44,"p":"PRN15","a":2.1,"d":0.23},{"s":44,"p":"PRN17","a":2.3,"d":0.16},{"s":44,"p":"PRN18","a":3.3,"d":0.2},{"s":44,"p":"PRN19","a":2.2,"d":0.15},{"s":44,"p":"PRN20","a":2.1,"d":0.215},{"s":44,"p":"PRN21","a":2.4,"d":0.16},{"s":44,"p":"PRN22","a":1.0,"d":0.19},{"s":44,"p":"PRN23","a":2.9,"d":0.08},{"s":44,"p":"PRN24","a":3.6,"d":0.123},
{"s":45,"p":"PRN02","a":1.8,"d":0.1},{"s":45,"p":"PRN03","a":2.8,"d":0.053},{"s":45,"p":"PRN07","a":3.0,"d":0.1},{"s":45,"p":"PRN08","a":5.35,"d":0.12},{"s":45,"p":"PRN10","a":3.3,"d":0.12},{"s":45,"p":"PRN11","a":3.5,"d":0.1},{"s":45,"p":"PRN13","a":3.2,"d":0.203},{"s":45,"p":"PRN14","a":3.4,"d":0.12},{"s":45,"p":"PRN15","a":3.0,"d":0.13},{"s":45,"p":"PRN17","a":2.5,"d":0.1},{"s":45,"p":"PRN18","a":4.0,"d":0.187},{"s":45,"p":"PRN19","a":2.9,"d":0.075},{"s":45,"p":"PRN20","a":3.3,"d":0.087},{"s":45,"p":"PRN21","a":4.5,"d":0.12},{"s":45,"p":"PRN22","a":2.6,"d":0.16},{"s":45,"p":"PRN23","a":3.2,"d":0.11},{"s":45,"p":"PRN24","a":3.7,"d":0.137},
{"s":46,"p":"PRN02","a":0.3,"d":0.05},{"s":46,"p":"PRN03","a":0.2,"d":0.05},{"s":46,"p":"PRN07","a":0.3,"d":0.05},{"s":46,"p":"PRN08","a":0.4,"d":0.05},{"s":46,"p":"PRN10","a":0.1,"d":0.05},{"s":46,"p":"PRN11","a":0.2,"d":0.05},{"s":46,"p":"PRN13","a":0.3,"d":0.05},{"s":46,"p":"PRN14","a":0.0,"d":0.02},{"s":46,"p":"PRN15","a":0.1,"d":0.05},{"s":46,"p":"PRN17","a":0.3,"d":0.077},{"s":46,"p":"PRN18","a":0.5,"d":0.06},{"s":46,"p":"PRN19","a":0.2,"d":0.05},{"s":46,"p":"PRN20","a":0.2,"d":0.05},{"s":46,"p":"PRN21","a":0.3,"d":0.05},{"s":46,"p":"PRN22","a":-0.1,"d":0.05},{"s":46,"p":"PRN23","a":0.3,"d":0.05},{"s":46,"p":"PRN24","a":0.7,"d":0.05},
{"s":47,"p":"PRN02","a":2.1,"d":0.12},{"s":47,"p":"PRN03","a":0.5,"d":0.12},{"s":47,"p":"PRN07","a":-0.5,"d":0.12},{"s":47,"p":"PRN08","a":-1.35,"d":0.12},{"s":47,"p":"PRN10","a":1.2,"d":0.12},{"s":47,"p":"PRN11","a":1.0,"d":0.12},{"s":47,"p":"PRN13","a":1.1,"d":0.16},{"s":47,"p":"PRN14","a":1.3,"d":0.12},{"s":47,"p":"PRN15","a":1.4,"d":0.12},{"s":47,"p":"PRN17","a":1.6,"d":0.12},{"s":47,"p":"PRN18","a":1.5,"d":0.14},{"s":47,"p":"PRN19","a":0.8,"d":0.12},{"s":47,"p":"PRN20","a":0.85,"d":0.095},{"s":47,"p":"PRN21","a":0.5,"d":0.12},{"s":47,"p":"PRN22","a":1.0,"d":0.12},{"s":47,"p":"PRN23","a":-0.1,"d":0.117},{"s":47,"p":"PRN24","a":1.8,"d":0.13},
{"s":48,"p":"PRN02","a":0.1,"d":0.05},{"s":48,"p":"PRN03","a":0.0,"d":0.05},{"s":48,"p":"PRN07","a":0.1,"d":0.05},{"s":48,"p":"PRN08","a":0.2,"d":0.05},{"s":48,"p":"PRN10","a":-0.6,"d":0.073},{"s":48,"p":"PRN11","a":0.0,"d":0.05},{"s":48,"p":"PRN13","a":0.1,"d":0.05},{"s":48,"p":"PRN14","a":-0.3,"d":0.05},{"s":48,"p":"PRN15","a":-0.2,"d":0.05},{"s":48,"p":"PRN17","a":0.1,"d":0.05},{"s":48,"p":"PRN18","a":0.3,"d":0.06},{"s":48,"p":"PRN19","a":0.0,"d":0.05},{"s":48,"p":"PRN20","a":0.0,"d":0.05},{"s":48,"p":"PRN21","a":0.1,"d":0.05},{"s":48,"p":"PRN22","a":-0.25,"d":0.05},{"s":48,"p":"PRN23","a":0.1,"d":0.023},{"s":48,"p":"PRN24","a":0.45,"d":0.05},
{"s":49,"p":"PRN02","a":0.2,"d":0.06},{"s":49,"p":"PRN03","a":0.1,"d":0.06},{"s":49,"p":"PRN07","a":0.2,"d":0.06},{"s":49,"p":"PRN08","a":0.2,"d":0.06},{"s":49,"p":"PRN10","a":-0.5,"d":0.06},{"s":49,"p":"PRN11","a":0.1,"d":0.06},{"s":49,"p":"PRN13","a":0.2,"d":0.06},{"s":49,"p":"PRN14","a":-0.3,"d":0.06},{"s":49,"p":"PRN15","a":-0.1,"d":0.06},{"s":49,"p":"PRN17","a":0.2,"d":0.06},{"s":49,"p":"PRN18","a":0.4,"d":0.07},{"s":49,"p":"PRN19","a":0.1,"d":0.06},{"s":49,"p":"PRN20","a":0.1,"d":0.083},{"s":49,"p":"PRN21","a":0.2,"d":0.06},{"s":49,"p":"PRN22","a":-0.25,"d":0.06},{"s":49,"p":"PRN23","a":0.2,"d":0.06},{"s":49,"p":"PRN24","a":0.55,"d":0.055},
{"s":50,"p":"PRN02","a":0.7,"d":0.05},{"s":50,"p":"PRN03","a":0.6,"d":0.05},{"s":50,"p":"PRN07","a":0.7,"d":0.05},{"s":50,"p":"PRN08","a":0.7,"d":0.233},{"s":50,"p":"PRN10","a":0.5,"d":0.05},{"s":50,"p":"PRN11","a":0.6,"d":0.05},{"s":50,"p":"PRN13","a":0.7,"d":0.05},{"s":50,"p":"PRN14","a":0.4,"d":0.05},{"s":50,"p":"PRN15","a":0.5,"d":0.245},{"s":50,"p":"PRN17","a":0.7,"d":0.05},{"s":50,"p":"PRN18","a":0.9,"d":0.055},{"s":50,"p":"PRN19","a":0.6,"d":0.05},{"s":50,"p":"PRN20","a":0.6,"d":0.05},{"s":50,"p":"PRN21","a":0.7,"d":0.065},{"s":50,"p":"PRN22","a":0.4,"d":0.05},{"s":50,"p":"PRN23","a":0.7,"d":0.05},{"s":50,"p":"PRN24","a":1.0,"d":0.037},
{"s":51,"p":"PRN02","a":-1.3,"d":0.097},{"s":51,"p":"PRN03","a":-1.4,"d":0.06},{"s":51,"p":"PRN07","a":-1.3,"d":0.06},{"s":51,"p":"PRN08","a":-1.2,"d":0.06},{"s":51,"p":"PRN10","a":-2.45,"d":0.06},{"s":51,"p":"PRN11","a":-1.5,"d":0.06},{"s":51,"p":"PRN13","a":-1.4,"d":0.06},{"s":51,"p":"PRN14","a":-1.8,"d":0.06},{"s":51,"p":"PRN15","a":-1.9,"d":0.06},{"s":51,"p":"PRN17","a":-1.3,"d":0.06},{"s":51,"p":"PRN18","a":-1.1,"d":0.073},{"s":51,"p":"PRN19","a":-1.5,"d":0.06},{"s":51,"p":"PRN20","a":-1.6,"d":0.06},{"s":51,"p":"PRN21","a":-1.4,"d":0.06},{"s":51,"p":"PRN22","a":-2.1,"d":0.043},{"s":51,"p":"PRN23","a":-0.8,"d":0.06},{"s":51,"p":"PRN24","a":-0.7,"d":0.06},
{"s":52,"p":"PRN02","a":3.0,"d":0.135},{"s":52,"p":"PRN03","a":2.2,"d":0.203},{"s":52,"p":"PRN07","a":2.3,"d":0.25},{"s":52,"p":"PRN08","a":2.4,"d":0.29},{"s":52,"p":"PRN10","a":2.3,"d":0.16},{"s":52,"p":"PRN11","a":2.2,"d":0.24},{"s":52,"p":"PRN13","a":2.4,"d":0.18},{"s":52,"p":"PRN14","a":2.0,"d":0.125},{"s":52,"p":"PRN15","a":2.1,"d":0.365},{"s":52,"p":"PRN17","a":2.5,"d":0.2},{"s":52,"p":"PRN18","a":2.6,"d":0.323},{"s":52,"p":"PRN19","a":1.3,"d":0.417},{"s":52,"p":"PRN20","a":2.2,"d":0.26},{"s":52,"p":"PRN21","a":0.4,"d":0.233},{"s":52,"p":"PRN22","a":2.1,"d":0.337},{"s":52,"p":"PRN23","a":1.65,"d":0.313},{"s":52,"p":"PRN24","a":2.75,"d":0.22},
{"s":53,"p":"PRN02","a":0.4,"d":0.06},{"s":53,"p":"PRN03","a":-0.8,"d":0.07},{"s":53,"p":"PRN07","a":-2.0,"d":0.06},{"s":53,"p":"PRN08","a":-2.8,"d":0.07},{"s":53,"p":"PRN10","a":-0.3,"d":0.07},{"s":53,"p":"PRN11","a":-0.5,"d":0.07},{"s":53,"p":"PRN13","a":-0.4,"d":0.07},{"s":53,"p":"PRN14","a":-0.2,"d":0.07},{"s":53,"p":"PRN15","a":-0.3,"d":0.07},{"s":53,"p":"PRN17","a":0.2,"d":0.07},{"s":53,"p":"PRN18","a":0.0,"d":0.077},{"s":53,"p":"PRN19","a":-0.6,"d":0.07},{"s":53,"p":"PRN20","a":-0.5,"d":0.07},{"s":53,"p":"PRN21","a":-0.7,"d":0.055},{"s":53,"p":"PRN22","a":-0.25,"d":0.07},{"s":53,"p":"PRN23","a":-1.45,"d":0.123},{"s":53,"p":"PRN24","a":0.1,"d":0.065},
{"s":54,"p":"PRN02","a":4.6,"d":0.1},{"s":54,"p":"PRN03","a":4.5,"d":0.1},{"s":54,"p":"PRN07","a":4.2,"d":0.175},{"s":54,"p":"PRN08","a":4.7,"d":0.1},{"s":54,"p":"PRN10","a":4.5,"d":0.1},{"s":54,"p":"PRN11","a":4.6,"d":0.1},{"s":54,"p":"PRN13","a":4.7,"d":0.1},{"s":54,"p":"PRN14","a":4.5,"d":0.1},{"s":54,"p":"PRN15","a":4.4,"d":0.1},{"s":54,"p":"PRN17","a":4.7,"d":0.12},{"s":54,"p":"PRN18","a":5.1,"d":0.133},{"s":54,"p":"PRN19","a":4.5,"d":0.1},{"s":54,"p":"PRN20","a":4.6,"d":0.1},{"s":54,"p":"PRN21","a":4.8,"d":0.1},{"s":54,"p":"PRN22","a":4.3,"d":0.115},{"s":54,"p":"PRN23","a":4.8,"d":0.095},{"s":54,"p":"PRN24","a":5.4,"d":0.083},
{"s":55,"p":"PRN02","a":0.6,"d":0.06},{"s":55,"p":"PRN03","a":0.5,"d":0.06},{"s":55,"p":"PRN07","a":0.6,"d":0.095},{"s":55,"p":"PRN08","a":0.7,"d":0.06},{"s":55,"p":"PRN10","a":0.4,"d":0.05},{"s":55,"p":"PRN11","a":0.5,"d":0.06},{"s":55,"p":"PRN13","a":0.6,"d":0.06},{"s":55,"p":"PRN14","a":0.3,"d":0.06},{"s":55,"p":"PRN15","a":0.4,"d":0.035},{"s":55,"p":"PRN17","a":0.6,"d":0.06},{"s":55,"p":"PRN18","a":0.8,"d":0.065},{"s":55,"p":"PRN19","a":0.5,"d":0.06},{"s":55,"p":"PRN20","a":0.5,"d":0.06},{"s":55,"p":"PRN21","a":0.6,"d":0.06},{"s":55,"p":"PRN22","a":0.2,"d":0.06},{"s":55,"p":"PRN23","a":0.6,"d":0.06},{"s":55,"p":"PRN24","a":1.0,"d":0.05},
{"s":56,"p":"PRN02","a":9.6,"d":0.48},{"s":56,"p":"PRN03","a":14.5,"d":0.45},{"s":56,"p":"PRN07","a":14.9,"d":0.45},{"s":56,"p":"PRN08","a":14.2,"d":0.4},{"s":56,"p":"PRN10","a":7.3,"d":0.607},{"s":56,"p":"PRN11","a":8.0,"d":0.647},{"s":56,"p":"PRN13","a":3.85,"d":0.337},{"s":56,"p":"PRN14","a":6.15,"d":0.513},{"s":56,"p":"PRN15","a":7.5,"d":0.49},{"s":56,"p":"PRN17","a":14.1,"d":0.47},{"s":56,"p":"PRN18","a":13.1,"d":0.545},{"s":56,"p":"PRN19","a":12.4,"d":0.315},{"s":56,"p":"PRN20","a":10.8,"d":0.547},{"s":56,"p":"PRN21","a":14.3,"d":0.427},{"s":56,"p":"PRN22","a":2.75,"d":0.487},{"s":56,"p":"PRN23","a":13.0,"d":0.535},{"s":56,"p":"PRN24","a":10.5,"d":0.41},
{"s":57,"p":"PRN02","a":1.5,"d":0.237},{"s":57,"p":"PRN03","a":1.2,"d":0.2},{"s":57,"p":"PRN07","a":1.0,"d":0.06},{"s":57,"p":"PRN08","a":-0.2,"d":0.167},{"s":57,"p":"PRN10","a":1.8,"d":0.345},{"s":57,"p":"PRN11","a":1.5,"d":0.265},{"s":57,"p":"PRN13","a":1.6,"d":0.3},{"s":57,"p":"PRN14","a":2.0,"d":0.3},{"s":57,"p":"PRN15","a":1.9,"d":0.35},{"s":57,"p":"PRN17","a":1.6,"d":0.085},{"s":57,"p":"PRN18","a":2.3,"d":0.435},{"s":57,"p":"PRN19","a":1.4,"d":0.137},{"s":57,"p":"PRN20","a":2.1,"d":0.363},{"s":57,"p":"PRN21","a":1.8,"d":0.075},{"s":57,"p":"PRN22","a":1.65,"d":0.397},{"s":57,"p":"PRN23","a":0.85,"d":0.327},{"s":57,"p":"PRN24","a":2.65,"d":0.375},
{"s":58,"p":"PRN02","a":1.0,"d":0.04},{"s":58,"p":"PRN03","a":-0.2,"d":0.04},{"s":58,"p":"PRN07","a":0.3,"d":0.017},{"s":58,"p":"PRN08","a":-0.8,"d":0.04},{"s":58,"p":"PRN10","a":1.2,"d":0.04},{"s":58,"p":"PRN11","a":0.9,"d":0.04},{"s":58,"p":"PRN13","a":1.0,"d":0.037},{"s":58,"p":"PRN14","a":1.1,"d":0.04},{"s":58,"p":"PRN15","a":1.2,"d":0.04},{"s":58,"p":"PRN17","a":1.0,"d":0.04},{"s":58,"p":"PRN18","a":1.4,"d":0.06},{"s":58,"p":"PRN19","a":0.8,"d":0.04},{"s":58,"p":"PRN20","a":1.0,"d":0.04},{"s":58,"p":"PRN21","a":0.7,"d":0.04},{"s":58,"p":"PRN22","a":1.0,"d":0.045},{"s":58,"p":"PRN23","a":0.4,"d":0.045},{"s":58,"p":"PRN24","a":1.7,"d":0.05},
{"s":59,"p":"PRN02","a":0.4,"d":0.06},{"s":59,"p":"PRN03","a":0.3,"d":0.06},{"s":59,"p":"PRN07","a":0.4,"d":0.06},{"s":59,"p":"PRN08","a":0.5,"d":0.06},{"s":59,"p":"PRN10","a":0.2,"d":0.06},{"s":59,"p":"PRN11","a":0.3,"d":0.06},{"s":59,"p":"PRN13","a":0.4,"d":0.04},{"s":59,"p":"PRN14","a":0.05,"d":0.05},{"s":59,"p":"PRN15","a":0.2,"d":0.07},{"s":59,"p":"PRN17","a":0.4,"d":0.06},{"s":59,"p":"PRN18","a":0.6,"d":0.08},{"s":59,"p":"PRN19","a":0.3,"d":0.07},{"s":59,"p":"PRN20","a":0.3,"d":0.07},{"s":59,"p":"PRN21","a":0.4,"d":0.07},{"s":59,"p":"PRN22","a":0.2,"d":0.105},{"s":59,"p":"PRN23","a":0.4,"d":0.07},{"s":59,"p":"PRN24","a":0.7,"d":0.075},
{"s":60,"p":"PRN02","a":2.2,"d":0.023},{"s":60,"p":"PRN03","a":2.1,"d":0.05},{"s":60,"p":"PRN07","a":2.2,"d":0.05},{"s":60,"p":"PRN08","a":2.3,"d":0.05},{"s":60,"p":"PRN10","a":3.3,"d":0.05},{"s":60,"p":"PRN11","a":2.2,"d":0.05},{"s":60,"p":"PRN13","a":2.4,"d":0.045},{"s":60,"p":"PRN14","a":2.75,"d":0.05},{"s":60,"p":"PRN15","a":2.6,"d":0.06},{"s":60,"p":"PRN17","a":2.1,"d":0.05},{"s":60,"p":"PRN18","a":2.4,"d":0.077},{"s":60,"p":"PRN19","a":2.0,"d":0.06},{"s":60,"p":"PRN20","a":2.5,"d":0.06},{"s":60,"p":"PRN21","a":1.15,"d":0.06},{"s":60,"p":"PRN22","a":2.3,"d":0.1},{"s":60,"p":"PRN23","a":2.0,"d":0.06},{"s":60,"p":"PRN24","a":1.7,"d":0.043},
{"s":61,"p":"PRN02","a":0.2,"d":0.05},{"s":61,"p":"PRN03","a":0.1,"d":0.05},{"s":61,"p":"PRN07","a":0.2,"d":0.05},{"s":61,"p":"PRN08","a":0.2,"d":0.05},{"s":61,"p":"PRN10","a":0.0,"d":0.067},{"s":61,"p":"PRN11","a":0.1,"d":0.033},{"s":61,"p":"PRN13","a":0.1,"d":0.05},{"s":61,"p":"PRN14","a":-0.4,"d":0.05},{"s":61,"p":"PRN15","a":-0.1,"d":0.05},{"s":61,"p":"PRN17","a":0.2,"d":0.05},{"s":61,"p":"PRN18","a":0.3,"d":0.08},{"s":61,"p":"PRN19","a":0.0,"d":0.05},{"s":61,"p":"PRN20","a":0.0,"d":0.05},{"s":61,"p":"PRN21","a":0.1,"d":0.05},{"s":61,"p":"PRN22","a":0.1,"d":0.055},{"s":61,"p":"PRN23","a":0.2,"d":0.055},{"s":61,"p":"PRN24","a":0.45,"d":0.047},
{"s":62,"p":"PRN02","a":1.5,"d":0.12},{"s":62,"p":"PRN03","a":1.3,"d":0.15},{"s":62,"p":"PRN07","a":0.75,"d":0.167},{"s":62,"p":"PRN08","a":1.4,"d":0.14},{"s":62,"p":"PRN10","a":-2.45,"d":0.313},{"s":62,"p":"PRN11","a":1.6,"d":0.12},{"s":62,"p":"PRN13","a":1.7,"d":0.1},{"s":62,"p":"PRN14","a":-1.85,"d":0.043},{"s":62,"p":"PRN15","a":1.5,"d":0.1},{"s":62,"p":"PRN17","a":1.7,"d":0.105},{"s":62,"p":"PRN18","a":2.2,"d":0.12},{"s":62,"p":"PRN19","a":1.4,"d":0.195},{"s":62,"p":"PRN20","a":1.8,"d":0.08},{"s":62,"p":"PRN21","a":1.9,"d":0.075},{"s":62,"p":"PRN22","a":1.2,"d":0.05},{"s":62,"p":"PRN23","a":1.8,"d":0.19},{"s":62,"p":"PRN24","a":2.65,"d":0.133},
{"s":63,"p":"PRN02","a":0.5,"d":0.09},{"s":63,"p":"PRN03","a":0.4,"d":0.09},{"s":63,"p":"PRN07","a":0.5,"d":0.09},{"s":63,"p":"PRN08","a":0.6,"d":0.09},{"s":63,"p":"PRN10","a":0.3,"d":0.09},{"s":63,"p":"PRN11","a":0.5,"d":0.09},{"s":63,"p":"PRN13","a":0.5,"d":0.057},{"s":63,"p":"PRN14","a":0.2,"d":0.09},{"s":63,"p":"PRN15","a":0.3,"d":0.09},{"s":63,"p":"PRN17","a":0.5,"d":0.09},{"s":63,"p":"PRN18","a":0.7,"d":0.115},{"s":63,"p":"PRN19","a":0.4,"d":0.09},{"s":63,"p":"PRN20","a":0.4,"d":0.183},{"s":63,"p":"PRN21","a":0.5,"d":0.147},{"s":63,"p":"PRN22","a":0.2,"d":0.09},{"s":63,"p":"PRN23","a":0.6,"d":0.1},{"s":63,"p":"PRN24","a":0.85,"d":0.077},
{"s":64,"p":"PRN02","a":0.6,"d":0.05},{"s":64,"p":"PRN03","a":0.5,"d":0.05},{"s":64,"p":"PRN07","a":0.6,"d":0.05},{"s":64,"p":"PRN08","a":0.7,"d":0.05},{"s":64,"p":"PRN10","a":0.3,"d":0.097},{"s":64,"p":"PRN11","a":0.5,"d":0.05},{"s":64,"p":"PRN13","a":0.6,"d":0.05},{"s":64,"p":"PRN14","a":0.2,"d":0.07},{"s":64,"p":"PRN15","a":0.4,"d":0.06},{"s":64,"p":"PRN17","a":0.6,"d":0.05},{"s":64,"p":"PRN18","a":0.9,"d":0.06},{"s":64,"p":"PRN19","a":0.5,"d":0.05},{"s":64,"p":"PRN20","a":0.5,"d":0.05},{"s":64,"p":"PRN21","a":0.6,"d":0.027},{"s":64,"p":"PRN22","a":0.05,"d":0.05},{"s":64,"p":"PRN23","a":0.6,"d":0.045},{"s":64,"p":"PRN24","a":1.1,"d":0.055},
{"s":65,"p":"PRN02","a":0.8,"d":0.2},{"s":65,"p":"PRN03","a":0.3,"d":0.145},{"s":65,"p":"PRN07","a":0.4,"d":0.16},{"s":65,"p":"PRN08","a":0.85,"d":0.18},{"s":65,"p":"PRN10","a":-0.3,"d":0.115},{"s":65,"p":"PRN11","a":0.2,"d":0.2},{"s":65,"p":"PRN13","a":0.1,"d":0.103},{"s":65,"p":"PRN14","a":-0.5,"d":0.055},{"s":65,"p":"PRN15","a":-0.2,"d":0.13},{"s":65,"p":"PRN17","a":0.6,"d":0.215},{"s":65,"p":"PRN18","a":0.4,"d":0.19},{"s":65,"p":"PRN19","a":-0.1,"d":0.255},{"s":65,"p":"PRN20","a":0.0,"d":0.24},{"s":65,"p":"PRN21","a":0.0,"d":0.21},{"s":65,"p":"PRN22","a":-0.9,"d":0.073},{"s":65,"p":"PRN23","a":-0.3,"d":0.155},{"s":65,"p":"PRN24","a":0.05,"d":0.2},
{"s":66,"p":"PRN02","a":0.8,"d":0.04},{"s":66,"p":"PRN03","a":0.6,"d":0.04},{"s":66,"p":"PRN07","a":-0.1,"d":0.04},{"s":66,"p":"PRN08","a":0.9,"d":0.04},{"s":66,"p":"PRN10","a":2.0,"d":0.04},{"s":66,"p":"PRN11","a":0.7,"d":0.04},{"s":66,"p":"PRN13","a":1.0,"d":0.04},{"s":66,"p":"PRN14","a":1.6,"d":0.04},{"s":66,"p":"PRN15","a":1.3,"d":0.04},{"s":66,"p":"PRN17","a":0.8,"d":0.04},{"s":66,"p":"PRN18","a":1.1,"d":0.055},{"s":66,"p":"PRN19","a":0.6,"d":0.027},{"s":66,"p":"PRN20","a":1.0,"d":0.04},{"s":66,"p":"PRN21","a":0.2,"d":0.04},{"s":66,"p":"PRN22","a":0.5,"d":0.045},{"s":66,"p":"PRN23","a":0.6,"d":0.045},{"s":66,"p":"PRN24","a":0.7,"d":0.05},
{"s":67,"p":"PRN02","a":1.0,"d":0.08},{"s":67,"p":"PRN03","a":0.8,"d":0.08},{"s":67,"p":"PRN07","a":0.9,"d":0.08},{"s":67,"p":"PRN08","a":1.0,"d":0.08},{"s":67,"p":"PRN10","a":2.5,"d":0.22},{"s":67,"p":"PRN11","a":0.0,"d":0.08},{"s":67,"p":"PRN13","a":1.3,"d":0.08},{"s":67,"p":"PRN14","a":1.95,"d":0.08},{"s":67,"p":"PRN15","a":1.6,"d":0.09},{"s":67,"p":"PRN17","a":1.0,"d":0.08},{"s":67,"p":"PRN18","a":1.4,"d":0.1},{"s":67,"p":"PRN19","a":0.6,"d":0.047},{"s":67,"p":"PRN20","a":1.2,"d":0.125},{"s":67,"p":"PRN21","a":0.8,"d":0.08},{"s":67,"p":"PRN22","a":0.9,"d":0.107},{"s":67,"p":"PRN23","a":1.0,"d":0.065},{"s":67,"p":"PRN24","a":1.1,"d":0.09},
{"s":68,"p":"PRN02","a":0.4,"d":0.045},{"s":68,"p":"PRN03","a":0.3,"d":0.045},{"s":68,"p":"PRN07","a":0.4,"d":0.045},{"s":68,"p":"PRN08","a":0.5,"d":0.045},{"s":68,"p":"PRN10","a":0.2,"d":0.045},{"s":68,"p":"PRN11","a":0.3,"d":0.045},{"s":68,"p":"PRN13","a":0.4,"d":0.045},{"s":68,"p":"PRN14","a":0.0,"d":0.045},{"s":68,"p":"PRN15","a":0.2,"d":0.045},{"s":68,"p":"PRN17","a":0.4,"d":0.045},{"s":68,"p":"PRN18","a":0.6,"d":0.06},{"s":68,"p":"PRN19","a":0.3,"d":0.045},{"s":68,"p":"PRN20","a":0.3,"d":0.045},{"s":68,"p":"PRN21","a":0.4,"d":0.045},{"s":68,"p":"PRN22","a":-0.1,"d":0.045},{"s":68,"p":"PRN23","a":0.4,"d":0.045},{"s":68,"p":"PRN24","a":0.85,"d":0.04},
{"s":69,"p":"PRN02","a":-3.0,"d":0.205},{"s":69,"p":"PRN03","a":-3.1,"d":0.2},{"s":69,"p":"PRN07","a":-3.0,"d":0.127},{"s":69,"p":"PRN08","a":-3.2,"d":0.19},{"s":69,"p":"PRN10","a":-3.3,"d":0.2},{"s":69,"p":"PRN11","a":-3.0,"d":0.225},{"s":69,"p":"PRN13","a":-3.2,"d":0.18},{"s":69,"p":"PRN14","a":-4.6,"d":0.145},{"s":69,"p":"PRN15","a":-3.8,"d":0.17},{"s":69,"p":"PRN17","a":-2.45,"d":0.21},{"s":69,"p":"PRN18","a":-2.6,"d":0.1},{"s":69,"p":"PRN19","a":-3.3,"d":0.265},{"s":69,"p":"PRN20","a":-3.4,"d":0.245},{"s":69,"p":"PRN21","a":-3.0,"d":0.183},{"s":69,"p":"PRN22","a":-4.0,"d":0.16},{"s":69,"p":"PRN23","a":-3.55,"d":0.11},{"s":69,"p":"PRN24","a":-2.75,"d":0.085},
{"s":70,"p":"PRN02","a":0.3,"d":0.08},{"s":70,"p":"PRN03","a":0.2,"d":0.08},{"s":70,"p":"PRN07","a":0.3,"d":0.08},{"s":70,"p":"PRN08","a":0.4,"d":0.08},{"s":70,"p":"PRN10","a":0.1,"d":0.08},{"s":70,"p":"PRN11","a":0.2,"d":0.075},{"s":70,"p":"PRN13","a":0.3,"d":0.08},{"s":70,"p":"PRN14","a":0.0,"d":0.11},{"s":70,"p":"PRN15","a":0.1,"d":0.08},{"s":70,"p":"PRN17","a":0.3,"d":0.08},{"s":70,"p":"PRN18","a":0.5,"d":0.095},{"s":70,"p":"PRN19","a":0.2,"d":0.08},{"s":70,"p":"PRN20","a":0.2,"d":0.08},{"s":70,"p":"PRN21","a":0.3,"d":0.105},{"s":70,"p":"PRN22","a":-0.1,"d":0.055},{"s":70,"p":"PRN23","a":0.3,"d":0.07},{"s":70,"p":"PRN24","a":0.6,"d":0.045},
{"s":71,"p":"PRN02","a":6.5,"d":0.07},{"s":71,"p":"PRN03","a":6.8,"d":0.07},{"s":71,"p":"PRN07","a":6.6,"d":0.07},{"s":71,"p":"PRN08","a":4.85,"d":0.07},{"s":71,"p":"PRN10","a":8.4,"d":0.07},{"s":71,"p":"PRN11","a":7.0,"d":0.07},{"s":71,"p":"PRN13","a":7.2,"d":0.07},{"s":71,"p":"PRN14","a":8.2,"d":0.07},{"s":71,"p":"PRN15","a":7.8,"d":0.07},{"s":71,"p":"PRN17","a":6.2,"d":0.07},{"s":71,"p":"PRN18","a":6.8,"d":0.11},{"s":71,"p":"PRN19","a":7.0,"d":0.07},{"s":71,"p":"PRN20","a":7.3,"d":0.1},{"s":71,"p":"PRN21","a":5.35,"d":0.07},{"s":71,"p":"PRN22","a":8.0,"d":0.065},{"s":71,"p":"PRN23","a":6.4,"d":0.04},{"s":71,"p":"PRN24","a":5.9,"d":0.09},
{"s":72,"p":"PRN02","a":0.8,"d":0.05},{"s":72,"p":"PRN03","a":-0.1,"d":0.05},{"s":72,"p":"PRN07","a":0.3,"d":0.05},{"s":72,"p":"PRN08","a":-1.15,"d":0.05},{"s":72,"p":"PRN10","a":1.0,"d":0.033},{"s":72,"p":"PRN11","a":0.6,"d":0.05},{"s":72,"p":"PRN13","a":0.8,"d":0.05},{"s":72,"p":"PRN14","a":0.9,"d":0.05},{"s":72,"p":"PRN15","a":1.0,"d":0.05},{"s":72,"p":"PRN17","a":0.8,"d":0.043},{"s":72,"p":"PRN18","a":1.2,"d":0.06},{"s":72,"p":"PRN19","a":0.5,"d":0.05},{"s":72,"p":"PRN20","a":1.0,"d":0.083},{"s":72,"p":"PRN21","a":0.6,"d":0.05},{"s":72,"p":"PRN22","a":0.8,"d":0.05},{"s":72,"p":"PRN23","a":0.2,"d":0.05},{"s":72,"p":"PRN24","a":1.8,"d":0.055},
{"s":73,"p":"PRN02","a":-0.1,"d":0.1},{"s":73,"p":"PRN03","a":-0.2,"d":0.1},{"s":73,"p":"PRN07","a":-0.1,"d":0.1},{"s":73,"p":"PRN08","a":-0.1,"d":0.1},{"s":73,"p":"PRN10","a":-0.3,"d":0.1},{"s":73,"p":"PRN11","a":-0.2,"d":0.13},{"s":73,"p":"PRN13","a":-0.1,"d":0.1},{"s":73,"p":"PRN14","a":-0.4,"d":0.1},{"s":73,"p":"PRN15","a":-0.3,"d":0.1},{"s":73,"p":"PRN17","a":-0.1,"d":0.1},{"s":73,"p":"PRN18","a":0.1,"d":0.107},{"s":73,"p":"PRN19","a":-0.2,"d":0.1},{"s":73,"p":"PRN20","a":-0.2,"d":0.157},{"s":73,"p":"PRN21","a":-0.1,"d":0.143},{"s":73,"p":"PRN22","a":-0.55,"d":0.09},{"s":73,"p":"PRN23","a":-0.1,"d":0.09},{"s":73,"p":"PRN24","a":0.2,"d":0.073},
{"s":74,"p":"PRN02","a":0.3,"d":0.04},{"s":74,"p":"PRN03","a":0.3,"d":0.04},{"s":74,"p":"PRN07","a":0.35,"d":0.04},{"s":74,"p":"PRN08","a":0.4,"d":0.04},{"s":74,"p":"PRN10","a":0.3,"d":0.04},{"s":74,"p":"PRN11","a":0.3,"d":0.03},{"s":74,"p":"PRN13","a":0.35,"d":0.04},{"s":74,"p":"PRN14","a":0.5,"d":0.04},{"s":74,"p":"PRN15","a":0.4,"d":0.04},{"s":74,"p":"PRN17","a":0.3,"d":0.04},{"s":74,"p":"PRN18","a":0.4,"d":0.045},{"s":74,"p":"PRN19","a":0.3,"d":0.04},{"s":74,"p":"PRN20","a":0.35,"d":0.04},{"s":74,"p":"PRN21","a":0.35,"d":0.06},{"s":74,"p":"PRN22","a":0.3,"d":0.04},{"s":74,"p":"PRN23","a":0.35,"d":0.04},{"s":74,"p":"PRN24","a":0.3,"d":0.037},
{"s":75,"p":"PRN02","a":0.5,"d":0.05},{"s":75,"p":"PRN03","a":0.4,"d":0.05},{"s":75,"p":"PRN07","a":0.5,"d":0.05},{"s":75,"p":"PRN08","a":0.6,"d":0.05},{"s":75,"p":"PRN10","a":-0.5,"d":0.05},{"s":75,"p":"PRN11","a":0.4,"d":0.03},{"s":75,"p":"PRN13","a":0.5,"d":0.05},{"s":75,"p":"PRN14","a":0.0,"d":0.05},{"s":75,"p":"PRN15","a":0.2,"d":0.05},{"s":75,"p":"PRN17","a":0.5,"d":0.05},{"s":75,"p":"PRN18","a":0.8,"d":0.087},{"s":75,"p":"PRN19","a":0.3,"d":0.05},{"s":75,"p":"PRN20","a":0.4,"d":0.07},{"s":75,"p":"PRN21","a":0.5,"d":0.05},{"s":75,"p":"PRN22","a":0.2,"d":0.055},{"s":75,"p":"PRN23","a":0.6,"d":0.06},{"s":75,"p":"PRN24","a":1.1,"d":0.055},
{"s":76,"p":"PRN02","a":0.0,"d":0.06},{"s":76,"p":"PRN03","a":-0.1,"d":0.06},{"s":76,"p":"PRN07","a":0.0,"d":0.06},{"s":76,"p":"PRN08","a":0.0,"d":0.06},{"s":76,"p":"PRN10","a":-0.2,"d":0.06},{"s":76,"p":"PRN11","a":-0.1,"d":0.06},{"s":76,"p":"PRN13","a":0.0,"d":0.06},{"s":76,"p":"PRN14","a":-0.3,"d":0.06},{"s":76,"p":"PRN15","a":-0.2,"d":0.06},{"s":76,"p":"PRN17","a":0.0,"d":0.04},{"s":76,"p":"PRN18","a":0.1,"d":0.1},{"s":76,"p":"PRN19","a":-0.1,"d":0.06},{"s":76,"p":"PRN20","a":-0.1,"d":0.06},{"s":76,"p":"PRN21","a":0.0,"d":0.06},{"s":76,"p":"PRN22","a":-0.4,"d":0.077},{"s":76,"p":"PRN23","a":0.0,"d":0.06},{"s":76,"p":"PRN24","a":0.2,"d":0.055},
{"s":77,"p":"PRN02","a":4.2,"d":0.05},{"s":77,"p":"PRN03","a":4.0,"d":0.03},{"s":77,"p":"PRN07","a":4.2,"d":0.05},{"s":77,"p":"PRN08","a":5.1,"d":0.05},{"s":77,"p":"PRN10","a":4.0,"d":0.05},{"s":77,"p":"PRN11","a":4.2,"d":0.05},{"s":77,"p":"PRN13","a":4.3,"d":0.05},{"s":77,"p":"PRN14","a":3.8,"d":0.05},{"s":77,"p":"PRN15","a":3.9,"d":0.05},{"s":77,"p":"PRN17","a":4.3,"d":0.05},{"s":77,"p":"PRN18","a":4.8,"d":0.06},{"s":77,"p":"PRN19","a":4.0,"d":0.05},{"s":77,"p":"PRN20","a":4.1,"d":0.05},{"s":77,"p":"PRN21","a":4.4,"d":0.05},{"s":77,"p":"PRN22","a":3.4,"d":0.043},{"s":77,"p":"PRN23","a":4.5,"d":0.06},{"s":77,"p":"PRN24","a":4.6,"d":0.077},
{"s":78,"p":"PRN02","a":1.6,"d":0.08},{"s":78,"p":"PRN03","a":1.5,"d":0.08},{"s":78,"p":"PRN07","a":0.8,"d":0.08},{"s":78,"p":"PRN08","a":1.7,"d":0.08},{"s":78,"p":"PRN10","a":3.2,"d":0.135},{"s":78,"p":"PRN11","a":1.8,"d":0.055},{"s":78,"p":"PRN13","a":2.0,"d":0.08},{"s":78,"p":"PRN14","a":2.6,"d":0.08},{"s":78,"p":"PRN15","a":2.5,"d":0.09},{"s":78,"p":"PRN17","a":1.6,"d":0.08},{"s":78,"p":"PRN18","a":2.0,"d":0.09},{"s":78,"p":"PRN19","a":1.7,"d":0.08},{"s":78,"p":"PRN20","a":2.1,"d":0.08},{"s":78,"p":"PRN21","a":0.85,"d":0.095},{"s":78,"p":"PRN22","a":2.3,"d":0.073},{"s":78,"p":"PRN23","a":1.8,"d":0.11},{"s":78,"p":"PRN24","a":1.5,"d":0.145},
{"s":79,"p":"PRN02","a":2.5,"d":0.05},{"s":79,"p":"PRN03","a":2.4,"d":0.05},{"s":79,"p":"PRN07","a":2.5,"d":0.05},{"s":79,"p":"PRN08","a":2.6,"d":0.05},{"s":79,"p":"PRN10","a":2.3,"d":0.05},{"s":79,"p":"PRN11","a":2.4,"d":0.05},{"s":79,"p":"PRN13","a":2.5,"d":0.05},{"s":79,"p":"PRN14","a":2.1,"d":0.023},{"s":79,"p":"PRN15","a":2.2,"d":0.05},{"s":79,"p":"PRN17","a":2.5,"d":0.05},{"s":79,"p":"PRN18","a":2.9,"d":0.08},{"s":79,"p":"PRN19","a":2.3,"d":0.05},{"s":79,"p":"PRN20","a":2.4,"d":0.05},{"s":79,"p":"PRN21","a":2.5,"d":0.05},{"s":79,"p":"PRN22","a":1.95,"d":0.065},{"s":79,"p":"PRN23","a":2.6,"d":0.05},{"s":79,"p":"PRN24","a":3.05,"d":0.043},
{"s":80,"p":"PRN02","a":1.3,"d":0.05},{"s":80,"p":"PRN03","a":-0.5,"d":0.05},{"s":80,"p":"PRN07","a":0.0,"d":0.05},{"s":80,"p":"PRN08","a":-1.5,"d":0.05},{"s":80,"p":"PRN10","a":0.6,"d":0.023},{"s":80,"p":"PRN11","a":0.4,"d":0.05},{"s":80,"p":"PRN13","a":0.5,"d":0.05},{"s":80,"p":"PRN14","a":0.6,"d":0.05},{"s":80,"p":"PRN15","a":0.7,"d":0.087},{"s":80,"p":"PRN17","a":0.9,"d":0.05},{"s":80,"p":"PRN18","a":0.8,"d":0.055},{"s":80,"p":"PRN19","a":0.3,"d":0.027},{"s":80,"p":"PRN20","a":0.5,"d":0.05},{"s":80,"p":"PRN21","a":0.4,"d":0.05},{"s":80,"p":"PRN22","a":0.5,"d":0.05},{"s":80,"p":"PRN23","a":0.2,"d":0.045},{"s":80,"p":"PRN24","a":1.0,"d":0.037},
{"s":81,"p":"PRN02","a":0.9,"d":0.05},{"s":81,"p":"PRN03","a":-0.8,"d":0.1},{"s":81,"p":"PRN07","a":0.2,"d":0.153},{"s":81,"p":"PRN08","a":-0.9,"d":0.1},{"s":81,"p":"PRN10","a":2.1,"d":0.143},{"s":81,"p":"PRN11","a":0.6,"d":0.1},{"s":81,"p":"PRN13","a":0.9,"d":0.1},{"s":81,"p":"PRN14","a":1.2,"d":0.1},{"s":81,"p":"PRN15","a":1.4,"d":0.1},{"s":81,"p":"PRN17","a":0.8,"d":0.08},{"s":81,"p":"PRN18","a":1.3,"d":0.115},{"s":81,"p":"PRN19","a":0.5,"d":0.1},{"s":81,"p":"PRN20","a":0.7,"d":0.1},{"s":81,"p":"PRN21","a":0.4,"d":0.095},{"s":81,"p":"PRN22","a":0.8,"d":0.08},{"s":81,"p":"PRN23","a":0.05,"d":0.08},{"s":81,"p":"PRN24","a":1.7,"d":0.067},
{"s":82,"p":"PRN02","a":4.8,"d":0.09},{"s":82,"p":"PRN03","a":4.7,"d":0.09},{"s":82,"p":"PRN07","a":4.8,"d":0.09},{"s":82,"p":"PRN08","a":4.9,"d":0.09},{"s":82,"p":"PRN10","a":4.6,"d":0.09},{"s":82,"p":"PRN11","a":4.7,"d":0.09},{"s":82,"p":"PRN13","a":4.5,"d":0.09},{"s":82,"p":"PRN14","a":4.4,"d":0.09},{"s":82,"p":"PRN15","a":4.5,"d":0.09},{"s":82,"p":"PRN17","a":4.8,"d":0.09},{"s":82,"p":"PRN18","a":5.1,"d":0.133},{"s":82,"p":"PRN19","a":4.6,"d":0.065},{"s":82,"p":"PRN20","a":4.3,"d":0.09},{"s":82,"p":"PRN21","a":4.9,"d":0.05},{"s":82,"p":"PRN22","a":4.5,"d":0.093},{"s":82,"p":"PRN23","a":4.9,"d":0.153},{"s":82,"p":"PRN24","a":5.3,"d":0.13},
{"s":83,"p":"PRN02","a":0.6,"d":0.277},{"s":83,"p":"PRN03","a":0.9,"d":0.3},{"s":83,"p":"PRN07","a":1.0,"d":0.225},{"s":83,"p":"PRN08","a":1.5,"d":0.335},{"s":83,"p":"PRN10","a":1.2,"d":0.41},{"s":83,"p":"PRN11","a":1.1,"d":0.33},{"s":83,"p":"PRN13","a":5.9,"d":0.373},{"s":83,"p":"PRN14","a":6.15,"d":0.34},{"s":83,"p":"PRN15","a":2.5,"d":0.36},{"s":83,"p":"PRN17","a":0.75,"d":0.127},{"s":83,"p":"PRN18","a":0.1,"d":0.423},{"s":83,"p":"PRN19","a":0.4,"d":0.3},{"s":83,"p":"PRN20","a":0.3,"d":0.243},{"s":83,"p":"PRN21","a":-0.9,"d":0.153},{"s":83,"p":"PRN22","a":7.2,"d":0.357},{"s":83,"p":"PRN23","a":-0.55,"d":0.18},{"s":83,"p":"PRN24","a":0.55,"d":0.293},
{"s":84,"p":"PRN02","a":0.5,"d":0.05},{"s":84,"p":"PRN03","a":0.4,"d":0.05},{"s":84,"p":"PRN07","a":0.5,"d":0.05},{"s":84,"p":"PRN08","a":1.15,"d":0.05},{"s":84,"p":"PRN10","a":-0.8,"d":0.033},{"s":84,"p":"PRN11","a":0.4,"d":0.045},{"s":84,"p":"PRN13","a":0.5,"d":0.05},{"s":84,"p":"PRN14","a":-0.3,"d":0.05},{"s":84,"p":"PRN15","a":0.1,"d":0.05},{"s":84,"p":"PRN17","a":0.5,"d":0.05},{"s":84,"p":"PRN18","a":0.7,"d":0.095},{"s":84,"p":"PRN19","a":0.3,"d":0.05},{"s":84,"p":"PRN20","a":0.3,"d":0.05},{"s":84,"p":"PRN21","a":0.4,"d":0.05},{"s":84,"p":"PRN22","a":-0.1,"d":0.055},{"s":84,"p":"PRN23","a":0.5,"d":0.07},{"s":84,"p":"PRN24","a":0.85,"d":0.06},
{"s":85,"p":"PRN02","a":0.5,"d":0.06},{"s":85,"p":"PRN03","a":0.5,"d":0.06},{"s":85,"p":"PRN07","a":0.55,"d":0.06},{"s":85,"p":"PRN08","a":0.6,"d":0.06},{"s":85,"p":"PRN10","a":0.45,"d":0.06},{"s":85,"p":"PRN11","a":0.5,"d":0.06},{"s":85,"p":"PRN13","a":0.55,"d":0.06},{"s":85,"p":"PRN14","a":0.4,"d":0.06},{"s":85,"p":"PRN15","a":0.45,"d":0.06},{"s":85,"p":"PRN17","a":0.5,"d":0.06},{"s":85,"p":"PRN18","a":0.65,"d":0.105},{"s":85,"p":"PRN19","a":0.5,"d":0.06},{"s":85,"p":"PRN20","a":0.5,"d":0.06},{"s":85,"p":"PRN21","a":0.55,"d":0.06},{"s":85,"p":"PRN22","a":0.4,"d":0.077},{"s":85,"p":"PRN23","a":0.55,"d":0.035},{"s":85,"p":"PRN24","a":0.7,"d":0.043}
]},
"spacing":34,
"bounds":"flush",
"vconcat":[
{
"width":1139,"height":233,
"mark":{"type":"circle","size":138,"opacity":1},
"encoding":{
"x":{"field":"s","type":"quantitative","scale":{"domain":[0,88],"nice":false,"zero":false},
"axis":{"values":[0,2.5,5,7.5,10,12.5,15,17.5,20,22.5,25,27.5,30,32.5,35,37.5,40,42.5,45,47.5,50,52.5,55,57.5,60,62.5,65,67.5,70,72.5,75,77.5,80,82.5,85,87.5],"labels":false,"title":null,"grid":false,
"tickSize":{"condition":{"test":"datum.value % 5 != 0","value":4},"value":6}}},
"y":{"field":"a","type":"quantitative","scale":{"domain":[-6,16],"nice":false,"zero":false},
"axis":{"values":[-6,-4.5,-3,-1.5,0,1.5,3,4.5,6,7.5,9,10.5,12,13.5,15],"title":"Average(m)","titlePadding":12,"labelPadding":3,"grid":true,
"labelExpr":"datum.value % 3 == 0 ? datum.label : ''",
"tickSize":{"condition":{"test":"datum.value % 3 != 0","value":3.5},"value":7},
"gridOpacity":{"condition":{"test":"datum.value % 3 != 0 || datum.value < -5","value":0},"value":1}}},
"color":{"field":"p","type":"nominal",
"scale":{"domain":["PRN02","PRN03","PRN07","PRN08","PRN10","PRN11","PRN13","PRN14","PRN15","PRN17","PRN18","PRN19","PRN20","PRN21","PRN22","PRN23","PRN24"],
"range":["#00ff00","#ffff00","#00ffff","#808080","#ff00ff","#808000","#8000ff","#800000","#ff0080","#008000","#0000a0","#ff8000","#800080","#000000","#ff0000","#0000ff","#000080"]},
"legend":{"title":null,"orient":"none","legendX":1148,"legendY":-32,"symbolType":"circle","symbolSize":180,"symbolStrokeWidth":0,"symbolOpacity":1,"labelFontSize":17,"labelFont":"Liberation Sans","labelColor":"#000000","rowPadding":3,"labelOffset":16,"padding":0}}
}
},
{
"width":1139,"height":233,
"mark":{"type":"circle","size":138,"opacity":1},
"encoding":{
"x":{"field":"s","type":"quantitative","scale":{"domain":[0,88],"nice":false,"zero":false},
"axis":{"values":[0,2.5,5,7.5,10,12.5,15,17.5,20,22.5,25,27.5,30,32.5,35,37.5,40,42.5,45,47.5,50,52.5,55,57.5,60,62.5,65,67.5,70,72.5,75,77.5,80,82.5,85,87.5],"title":"Rover Station","titlePadding":10,"labelPadding":4,"grid":false,
"labelExpr":"datum.value % 5 == 0 && datum.value > 0 ? ['BELF','BRST','DARE','EGLT','FUNC','GSR1','GWWL','KIR0','LEON','MALL','MATE','ONSA','PFA2','SONS','TLMF','ZIM2','HERT'][datum.value / 5 - 1] : ''",
"tickSize":{"condition":{"test":"datum.value % 5 != 0","value":4},"value":6}}},
"y":{"field":"d","type":"quantitative","scale":{"domain":[0,0.7],"nice":false,"zero":false},
"axis":{"values":[0,0.05,0.1,0.15,0.2,0.25,0.3,0.35,0.4,0.45,0.5,0.55,0.6,0.65,0.7],"format":".1f","title":"STD(m)","titlePadding":12,"labelPadding":3,"grid":true,
"labelExpr":"round(datum.value * 100) % 10 == 0 ? datum.label : ''",
"tickSize":{"condition":{"test":"round(datum.value * 100) % 10 != 0","value":3.5},"value":7},
"gridOpacity":{"condition":{"test":"round(datum.value * 100) % 10 != 0 || datum.value < 0.05 || datum.value > 0.65","value":0},"value":1}}},
"color":{"field":"p","type":"nominal",
"scale":{"domain":["PRN02","PRN03","PRN07","PRN08","PRN10","PRN11","PRN13","PRN14","PRN15","PRN17","PRN18","PRN19","PRN20","PRN21","PRN22","PRN23","PRN24"],
"range":["#00ff00","#ffff00","#00ffff","#808080","#ff00ff","#808000","#8000ff","#800000","#ff0080","#008000","#0000a0","#ff8000","#800080","#000000","#ff0000","#0000ff","#000080"]},
"legend":{"title":null,"orient":"none","legendX":1148,"legendY":-32,"symbolType":"circle","symbolSize":180,"symbolStrokeWidth":0,"symbolOpacity":1,"labelFontSize":17,"labelFont":"Liberation Sans","labelColor":"#000000","rowPadding":3,"labelOffset":16,"padding":0}}
}
}
]
}
